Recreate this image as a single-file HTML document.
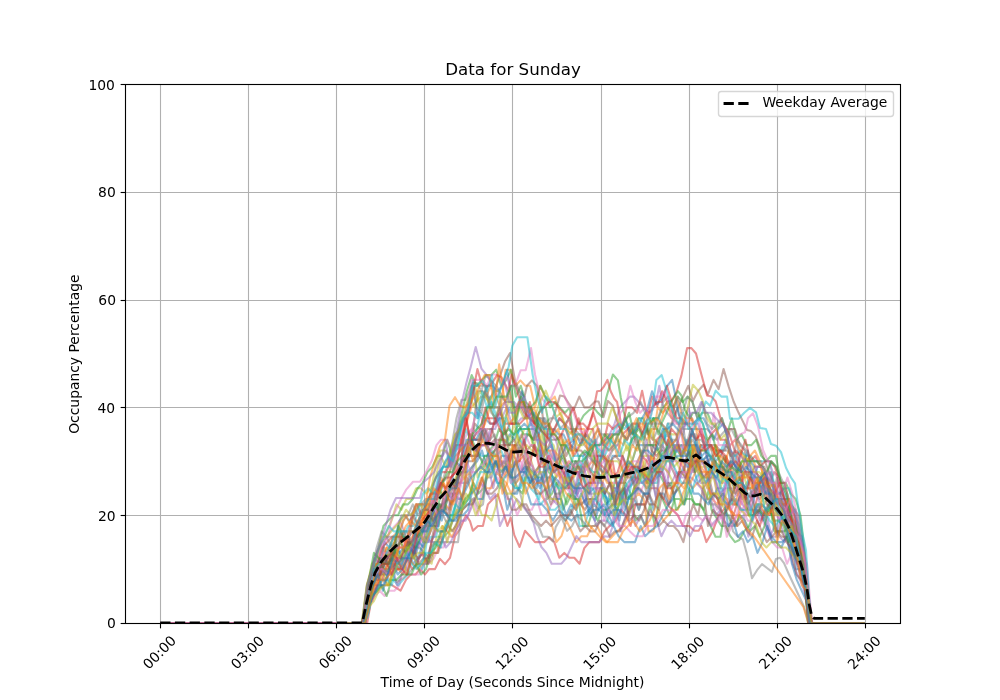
<!DOCTYPE html>
<html lang="en"><head><meta charset="utf-8"><title>Data for Sunday</title>
<style>html,body{margin:0;padding:0;background:#fff;}svg{display:block;}text{font-family:'DejaVu Sans', 'Liberation Sans', sans-serif;fill:#000;}</style>
</head><body>
<svg width="1000" height="700" viewBox="0 0 1000 700">
<defs><clipPath id="ax"><rect x="125" y="84" width="775" height="539"/></clipPath></defs>
<rect x="0" y="0" width="1000" height="700" fill="#ffffff"/>
<g stroke="#b0b0b0" stroke-width="1.111" fill="none">
<line x1="160.5" y1="84" x2="160.5" y2="623"/>
<line x1="248.5" y1="84" x2="248.5" y2="623"/>
<line x1="336.5" y1="84" x2="336.5" y2="623"/>
<line x1="424.5" y1="84" x2="424.5" y2="623"/>
<line x1="512.5" y1="84" x2="512.5" y2="623"/>
<line x1="601.5" y1="84" x2="601.5" y2="623"/>
<line x1="689.5" y1="84" x2="689.5" y2="623"/>
<line x1="777.5" y1="84" x2="777.5" y2="623"/>
<line x1="865.5" y1="84" x2="865.5" y2="623"/>
<line x1="125" y1="623.5" x2="900" y2="623.5"/>
<line x1="125" y1="515.5" x2="900" y2="515.5"/>
<line x1="125" y1="407.5" x2="900" y2="407.5"/>
<line x1="125" y1="300.5" x2="900" y2="300.5"/>
<line x1="125" y1="192.5" x2="900" y2="192.5"/>
<line x1="125" y1="84.5" x2="900" y2="84.5"/>
</g>
<g clip-path="url(#ax)" fill="none" stroke-width="2.083" stroke-linejoin="round" stroke-linecap="butt" stroke-opacity="0.5">
<polyline stroke="#1f77b4" points="160.2,623.0 362.3,623.0 367.3,606.8 372.2,579.9 377.1,574.5 382.0,558.3 386.9,558.3 391.8,552.9 396.7,552.9 401.6,558.3 406.5,558.3 411.4,552.9 416.3,552.9 421.2,536.8 426.1,526.0 431.0,509.8 436.0,499.0 440.9,482.9 445.8,488.2 450.7,488.2 455.6,461.3 460.5,466.7 465.4,445.1 470.3,439.7 475.2,439.7 480.1,439.7 485.0,418.2 489.9,423.6 494.8,423.6 499.7,418.2 504.7,445.1 509.6,434.4 514.5,439.7 519.4,429.0 524.3,423.6 529.2,429.0 534.1,429.0 539.0,434.4 543.9,418.2 548.8,439.7 553.7,429.0 558.6,434.4 563.5,434.4 568.4,445.1 573.4,439.7 578.3,455.9 583.2,455.9 588.1,450.5 593.0,461.3 597.9,466.7 602.8,472.1 607.7,472.1 612.6,455.9 617.5,455.9 622.4,455.9 627.3,466.7 632.2,461.3 637.1,445.1 642.0,445.1 647.0,445.1 651.9,445.1 656.8,450.5 661.7,445.1 666.6,434.4 671.5,439.7 676.4,450.5 681.3,445.1 686.2,455.9 691.1,445.1 696.0,466.7 700.9,445.1 705.8,450.5 710.7,477.5 715.7,461.3 720.6,455.9 725.5,445.1 730.4,450.5 735.3,455.9 740.2,477.5 745.1,472.1 750.0,461.3 754.9,466.7 759.8,482.9 764.7,472.1 769.6,488.2 774.5,499.0 779.4,499.0 784.4,499.0 789.3,509.8 794.2,531.4 799.1,542.1 804.0,563.7 808.9,623.0 864.8,623.0"/>
<polyline stroke="#ff7f0e" points="160.2,623.0 363.3,623.0 368.2,601.4 373.1,585.3 378.1,585.3 383.0,574.5 387.9,552.9 392.8,536.8 397.7,531.4 402.6,547.5 407.5,542.1 412.4,536.8 417.3,520.6 422.2,526.0 427.1,499.0 432.0,493.6 436.9,488.2 441.8,493.6 446.8,488.2 451.7,477.5 456.6,461.3 461.5,445.1 466.4,423.6 471.3,407.4 476.2,402.0 481.1,396.6 486.0,396.6 490.9,385.8 495.8,396.6 500.7,407.4 505.6,369.7 510.5,369.7 515.4,385.8 520.4,380.4 525.3,385.8 530.2,385.8 535.1,407.4 540.0,385.8 544.9,396.6 549.8,402.0 554.7,396.6 559.6,412.8 564.5,423.6 569.4,434.4 574.3,429.0 579.2,429.0 584.1,429.0 589.1,455.9 594.0,455.9 598.9,466.7 603.8,445.1 608.7,450.5 613.6,445.1 618.5,439.7 623.4,445.1 628.3,429.0 633.2,434.4 638.1,423.6 643.0,423.6 647.9,434.4 652.8,439.7 657.8,407.4 662.7,412.8 667.6,407.4 672.5,412.8 677.4,423.6 682.3,423.6 687.2,423.6 692.1,418.2 697.0,429.0 701.9,434.4 706.8,439.7 711.7,450.5 716.6,445.1 721.5,477.5 726.4,455.9 731.4,477.5 736.3,472.1 741.2,450.5 746.1,461.3 751.0,455.9 755.9,466.7 760.8,466.7 765.7,482.9 770.6,499.0 775.5,493.6 780.4,504.4 785.3,504.4 790.2,515.2 795.1,531.4 800.1,542.1 805.0,563.7 809.9,623.0 864.8,623.0"/>
<polyline stroke="#2ca02c" points="160.2,623.0 365.5,623.0 370.4,579.9 375.3,569.1 380.2,558.3 385.1,558.3 390.0,569.1 394.9,563.7 399.9,569.1 404.8,558.3 409.7,542.1 414.6,547.5 419.5,547.5 424.4,552.9 429.3,558.3 434.2,542.1 439.1,547.5 444.0,536.8 448.9,531.4 453.8,515.2 458.7,488.2 463.6,504.4 468.6,499.0 473.5,482.9 478.4,493.6 483.3,488.2 488.2,466.7 493.1,455.9 498.0,455.9 502.9,466.7 507.8,466.7 512.7,477.5 517.6,488.2 522.5,493.6 527.4,466.7 532.3,472.1 537.3,477.5 542.2,477.5 547.1,499.0 552.0,493.6 556.9,482.9 561.8,488.2 566.7,504.4 571.6,493.6 576.5,499.0 581.4,504.4 586.3,499.0 591.2,499.0 596.1,499.0 601.0,488.2 605.9,504.4 610.9,499.0 615.8,477.5 620.7,504.4 625.6,482.9 630.5,493.6 635.4,520.6 640.3,515.2 645.2,526.0 650.1,504.4 655.0,526.0 659.9,493.6 664.8,504.4 669.7,515.2 674.6,499.0 679.6,499.0 684.5,504.4 689.4,488.2 694.3,504.4 699.2,504.4 704.1,509.8 709.0,488.2 711.5,509.8 716.5,517.9 721.4,526.0 725.7,526.0 730.0,535.7 735.0,542.1 739.3,540.0 744.0,531.4 749.0,526.0 753.2,515.2 758.1,504.4 763.0,520.6 767.9,509.8 772.8,515.2 777.7,536.8 782.6,520.6 787.5,526.0 792.4,552.9 797.3,558.3 802.2,569.1 807.1,596.0 812.0,623.0 864.8,623.0"/>
<polyline stroke="#d62728" points="160.2,623.0 367.2,623.0 372.0,596.0 377.0,590.7 382.0,585.3 387.0,585.3 390.3,584.2 395.5,587.4 400.5,590.7 406.0,579.9 410.7,574.5 415.5,574.5 420.0,569.1 425.0,574.5 429.0,569.1 435.0,569.1 440.0,558.9 445.0,564.2 450.0,557.8 455.0,536.2 460.0,529.2 466.0,515.2 470.0,521.1 472.9,530.8 477.9,526.0 482.9,526.0 487.9,504.4 492.9,499.0 497.9,494.2 502.9,510.9 507.4,526.0 510.7,517.4 514.3,535.1 519.6,547.0 525.0,530.8 530.0,536.2 535.0,542.1 539.5,542.1 544.3,542.1 549.3,537.3 554.3,542.1 559.3,557.8 564.3,552.9 569.3,557.8 574.3,557.8 579.6,563.7 584.3,548.1 589.3,542.1 594.3,542.1 599.3,542.1 604.5,531.4 609.5,526.0 615.9,520.6 620.8,509.8 625.7,515.2 630.6,526.0 635.5,504.4 640.4,504.4 645.3,504.4 650.2,488.2 657.0,488.2 662.0,496.3 667.1,504.4 672.9,510.3 677.9,515.2 682.9,526.0 689.3,526.0 694.3,530.8 698.6,530.8 701.4,526.0 706.4,542.1 712.9,530.8 718.6,515.2 723.5,509.8 728.5,504.4 733.6,515.2 738.5,499.0 743.5,493.6 748.4,515.2 753.3,515.2 758.2,493.6 763.1,482.9 768.0,499.0 772.9,493.6 777.8,499.0 782.7,509.8 787.6,531.4 792.5,542.1 797.4,563.7 802.3,563.7 807.2,585.3 812.2,623.0 864.8,623.0"/>
<polyline stroke="#9467bd" points="160.2,623.0 364.4,623.0 369.3,590.7 374.2,569.1 379.1,574.5 384.0,558.3 388.9,558.3 393.8,547.5 398.7,547.5 403.6,569.1 408.5,552.9 413.4,547.5 418.3,531.4 423.2,542.1 428.1,520.6 433.0,515.2 438.0,504.4 442.9,504.4 447.8,509.8 452.7,493.6 457.6,482.9 462.5,482.9 467.4,482.9 472.3,472.1 477.2,455.9 482.1,445.1 487.0,445.1 491.9,429.0 496.8,418.2 501.7,418.2 506.7,407.4 511.6,423.6 516.5,423.6 521.4,418.2 526.3,418.2 531.2,407.4 536.1,418.2 541.0,429.0 545.9,434.4 550.8,434.4 555.7,439.7 560.6,455.9 565.5,466.7 570.4,493.6 575.4,499.0 580.3,488.2 585.2,504.4 590.1,477.5 595.0,482.9 599.9,461.3 604.8,450.5 609.7,434.4 614.6,423.6 620.0,407.4 625.0,402.0 630.0,396.6 634.0,396.6 638.6,402.0 643.5,407.4 648.5,412.8 652.5,410.1 656.4,400.4 659.3,385.8 662.5,404.2 667.0,412.8 672.0,418.2 678.4,423.6 683.3,434.4 688.2,407.4 693.1,423.6 698.0,423.6 702.9,439.7 707.8,461.3 712.7,472.1 717.7,488.2 722.6,488.2 727.5,504.4 732.4,499.0 737.3,493.6 742.2,504.4 747.1,509.8 752.0,493.6 756.9,493.6 761.8,509.8 766.7,515.2 771.6,536.8 776.5,536.8 781.4,515.2 786.4,531.4 791.3,526.0 796.2,531.4 801.1,547.5 806.0,574.5 810.9,623.0 864.8,623.0"/>
<polyline stroke="#8c564b" points="160.2,623.0 365.1,623.0 370.0,590.7 374.9,569.1 379.8,569.1 384.7,558.3 389.6,552.9 394.5,552.9 399.4,542.1 404.3,536.8 409.2,547.5 414.1,558.3 419.1,531.4 424.0,526.0 428.9,526.0 433.8,526.0 438.7,526.0 443.6,499.0 448.5,520.6 453.4,499.0 458.3,466.7 463.2,461.3 468.1,445.1 473.0,429.0 477.9,391.2 482.8,391.2 490.0,399.3 495.0,388.5 500.0,375.6 505.0,361.6 510.0,353.0 515.0,380.4 519.5,391.2 524.5,396.6 527.0,385.8 531.9,380.4 536.8,385.8 541.7,407.4 546.6,450.5 551.5,439.7 556.5,439.7 561.4,434.4 566.3,455.9 571.2,445.1 576.1,450.5 581.0,450.5 585.9,455.9 590.8,472.1 595.7,455.9 600.6,455.9 605.5,461.3 610.4,461.3 615.3,455.9 620.2,461.3 625.1,477.5 630.1,472.1 635.0,466.7 639.9,455.9 644.8,450.5 649.7,461.3 654.6,439.7 659.5,445.1 664.4,429.0 669.3,434.4 673.0,418.2 678.0,407.4 682.9,397.2 688.3,385.8 692.9,400.9 697.9,391.2 703.6,384.8 707.9,394.5 713.6,379.9 718.6,389.1 723.6,369.1 728.6,386.4 733.6,401.5 738.6,412.8 742.9,421.4 747.0,430.0 751.0,431.1 755.5,436.0 760.0,447.8 764.5,460.2 769.0,472.1 774.0,482.9 777.3,493.6 782.2,493.6 787.1,504.4 792.0,520.6 796.9,536.8 801.8,558.3 806.7,579.9 811.6,623.0 864.8,623.0"/>
<polyline stroke="#e377c2" points="160.2,623.0 365.0,623.0 369.9,601.4 374.8,596.0 379.7,590.7 384.6,596.0 389.5,590.7 394.4,590.7 399.4,585.3 404.3,563.7 409.2,574.5 414.1,574.5 419.0,574.5 423.9,563.7 428.8,563.7 433.7,558.3 438.6,547.5 443.5,547.5 448.4,536.8 453.3,536.8 458.2,526.0 463.1,520.6 468.1,515.2 473.0,499.0 477.9,515.2 482.8,482.9 487.7,493.6 492.6,482.9 497.5,477.5 502.4,488.2 507.3,499.0 512.2,499.0 517.1,515.2 522.0,504.4 526.9,509.8 531.8,509.8 536.7,499.0 541.7,515.2 546.6,515.2 551.5,504.4 556.4,499.0 561.3,488.2 566.2,488.2 571.1,493.6 576.0,488.2 580.9,488.2 585.8,499.0 590.7,499.0 595.6,504.4 600.5,499.0 605.4,515.2 610.4,504.4 615.3,504.4 620.2,493.6 625.1,499.0 630.0,477.5 634.9,482.9 639.8,493.6 644.7,482.9 649.6,482.9 654.5,482.9 659.4,461.3 664.3,455.9 669.2,445.1 674.1,450.5 679.1,450.5 684.0,445.1 688.9,472.1 693.8,455.9 698.7,466.7 703.6,461.3 708.5,482.9 713.4,472.1 718.3,504.4 723.2,526.0 728.1,499.0 733.0,520.6 737.9,515.2 742.8,509.8 747.7,520.6 752.7,520.6 757.6,509.8 762.5,520.6 767.4,531.4 772.3,542.1 777.2,547.5 782.1,547.5 787.0,563.7 791.9,552.9 796.8,558.3 801.7,574.5 806.6,590.7 811.5,623.0 864.8,623.0"/>
<polyline stroke="#7f7f7f" points="160.2,623.0 363.4,623.0 368.4,596.0 373.3,574.5 378.2,574.5 383.1,574.5 388.0,574.5 392.9,574.5 397.8,569.1 402.7,563.7 407.6,542.1 412.5,542.1 417.4,526.0 422.3,504.4 427.2,509.8 432.1,504.4 437.1,493.6 442.0,482.9 446.9,466.7 451.8,445.1 456.5,418.2 461.4,399.9 465.7,399.9 472.9,383.1 477.0,383.1 481.4,391.2 485.7,375.1 490.0,379.4 497.0,386.9 503.0,397.2 505.7,402.0 511.4,402.0 516.0,407.4 520.5,407.4 525.4,418.2 530.3,418.2 535.2,423.6 540.1,418.2 545.0,418.2 549.9,429.0 554.8,429.0 559.7,418.2 564.6,423.6 569.5,429.0 574.5,429.0 579.4,434.4 584.3,445.1 589.2,450.5 594.1,445.1 599.0,434.4 603.9,434.4 608.8,434.4 613.7,445.1 618.6,434.4 623.5,423.6 628.4,429.0 633.3,445.1 638.2,423.6 643.1,434.4 648.1,429.0 653.0,439.7 657.9,429.0 662.8,439.7 667.7,423.6 672.6,423.6 677.5,407.4 682.4,429.0 687.3,429.0 692.2,429.0 697.1,429.0 702.0,429.0 706.9,429.0 711.8,434.4 716.8,439.7 721.7,434.4 726.6,429.0 731.5,429.0 736.4,439.7 741.3,472.1 746.2,472.1 751.1,493.6 756.0,488.2 760.9,493.6 765.8,472.1 770.7,504.4 775.6,493.6 780.5,504.4 785.5,526.0 790.4,531.4 795.3,536.8 800.2,552.9 805.1,579.9 810.0,623.0 864.8,623.0"/>
<polyline stroke="#bcbd22" points="160.2,623.0 362.2,623.0 367.1,585.3 372.0,563.7 376.9,558.3 381.8,542.1 386.7,531.4 391.6,520.6 396.5,504.4 401.4,509.8 406.3,499.0 411.3,499.0 416.2,488.2 421.1,488.2 426.0,493.6 430.9,488.2 435.8,477.5 440.7,455.9 445.6,466.7 450.5,450.5 455.4,434.4 460.3,429.0 465.2,412.8 470.1,396.6 475.0,385.8 480.0,407.4 484.9,391.2 489.8,407.4 494.7,418.2 499.6,407.4 504.5,429.0 509.4,439.7 514.3,423.6 519.2,445.1 524.1,429.0 529.0,429.0 533.9,450.5 538.8,418.2 543.7,429.0 548.6,439.7 553.6,445.1 558.5,466.7 563.4,439.7 568.3,450.5 573.2,450.5 578.1,450.5 583.0,439.7 587.9,434.4 592.8,461.3 597.7,450.5 602.6,455.9 607.5,434.4 612.4,450.5 617.3,434.4 622.3,455.9 627.2,445.1 632.1,461.3 637.0,445.1 641.9,455.9 646.8,455.9 651.7,455.9 656.6,450.5 661.5,461.3 666.4,450.5 671.3,445.1 676.2,461.3 681.1,472.1 686.0,477.5 691.0,455.9 695.9,445.1 700.8,466.7 705.7,466.7 710.6,466.7 715.5,461.3 720.4,488.2 725.3,472.1 730.2,461.3 735.1,477.5 740.0,466.7 744.9,477.5 749.8,472.1 754.7,488.2 759.7,488.2 764.6,504.4 769.5,493.6 774.4,509.8 779.3,509.8 784.2,520.6 789.1,526.0 794.0,542.1 798.9,547.5 803.8,579.9 808.7,623.0 864.8,623.0"/>
<polyline stroke="#17becf" points="160.2,623.0 363.7,623.0 368.6,590.7 373.5,569.1 378.4,569.1 383.3,563.7 388.3,579.9 393.2,579.9 398.1,585.3 403.0,579.9 407.9,574.5 412.8,552.9 417.7,563.7 422.6,569.1 427.5,536.8 432.4,520.6 437.3,515.2 442.2,509.8 447.1,515.2 452.0,515.2 457.0,499.0 461.9,499.0 466.8,466.7 471.7,445.1 476.6,450.5 481.5,455.9 486.4,455.9 491.3,450.5 496.2,455.9 501.1,450.5 506.0,461.3 510.9,482.9 515.8,488.2 520.7,488.2 525.7,477.5 530.6,488.2 535.5,493.6 540.4,504.4 545.3,499.0 550.2,509.8 555.1,509.8 560.0,504.4 564.9,520.6 569.8,515.2 574.7,499.0 579.6,526.0 584.5,526.0 589.4,509.8 594.3,499.0 599.3,504.4 604.2,493.6 609.1,504.4 614.0,488.2 618.9,493.6 623.8,493.6 628.7,488.2 633.6,482.9 638.5,466.7 643.4,477.5 648.3,482.9 653.2,461.3 658.1,472.1 663.0,445.1 668.0,423.6 672.9,445.1 677.8,445.1 682.7,455.9 687.6,439.7 692.5,450.5 697.4,450.5 702.3,461.3 707.2,472.1 712.1,466.7 717.0,472.1 721.9,493.6 726.8,477.5 731.7,493.6 736.7,504.4 741.6,493.6 746.5,482.9 751.4,477.5 756.3,477.5 761.2,488.2 766.1,493.6 771.0,482.9 775.9,499.0 780.8,504.4 785.7,520.6 790.6,520.6 795.5,542.1 800.4,552.9 805.4,574.5 810.3,623.0 864.8,623.0"/>
<polyline stroke="#1f77b4" points="160.2,623.0 364.2,623.0 369.1,596.0 374.0,579.9 378.9,574.5 383.9,558.3 388.8,558.3 393.7,563.7 398.6,558.3 403.5,558.3 408.4,552.9 413.3,563.7 418.2,558.3 423.1,542.1 428.0,542.1 432.9,509.8 437.8,526.0 442.7,504.4 447.6,493.6 452.6,499.0 457.5,477.5 462.4,472.1 467.3,472.1 472.2,466.7 477.1,461.3 482.0,450.5 486.9,466.7 491.8,455.9 496.7,466.7 501.6,455.9 506.5,455.9 511.4,472.1 516.3,461.3 521.3,477.5 526.2,488.2 531.1,504.4 537.0,504.4 542.0,504.4 547.1,510.3 552.9,520.6 558.6,510.3 564.3,515.2 571.4,520.6 576.4,515.2 584.3,515.2 589.0,509.8 594.9,520.6 599.8,504.4 604.7,515.2 609.6,493.6 614.5,499.0 619.4,520.6 624.3,488.2 629.2,499.0 634.1,499.0 639.0,509.8 643.9,493.6 648.8,493.6 653.7,509.8 658.6,493.6 663.6,493.6 668.5,504.4 673.4,499.0 678.3,482.9 683.2,466.7 688.1,482.9 693.0,466.7 697.9,482.9 702.8,477.5 707.7,477.5 712.6,499.0 717.5,488.2 722.4,499.0 727.3,504.4 732.3,499.0 737.2,504.4 742.1,509.8 747.0,509.8 751.9,509.8 756.8,509.8 761.7,515.2 766.6,526.0 771.5,536.8 776.4,542.1 781.3,547.5 786.2,536.8 791.1,526.0 796.0,569.1 801.0,569.1 805.9,596.0 810.8,623.0 864.8,623.0"/>
<polyline stroke="#ff7f0e" points="160.2,623.0 363.9,623.0 368.8,606.8 373.7,590.7 378.6,585.3 383.5,579.9 388.4,585.3 393.3,569.1 398.2,569.1 403.1,574.5 408.0,558.3 412.9,563.7 417.8,569.1 422.7,563.7 427.6,558.3 432.6,552.9 437.5,552.9 442.4,526.0 447.3,531.4 452.2,536.8 457.1,526.0 462.0,499.0 466.9,477.5 471.8,493.6 476.7,488.2 481.6,477.5 486.5,488.2 491.4,488.2 496.3,472.1 501.2,477.5 506.2,482.9 511.1,493.6 516.0,482.9 520.9,477.5 525.8,493.6 530.0,482.9 535.0,488.2 540.0,493.1 547.1,504.4 552.1,526.0 556.4,542.1 561.4,536.2 566.4,520.6 571.4,530.8 576.4,542.1 581.4,536.2 587.1,536.2 592.1,526.0 597.1,526.0 602.1,536.2 607.1,542.1 612.0,536.8 617.0,531.4 623.9,526.0 628.8,515.2 633.7,499.0 638.6,493.6 643.6,499.0 648.5,531.4 653.4,531.4 658.3,509.8 663.2,520.6 668.1,515.2 673.0,509.8 677.9,509.8 682.8,493.6 687.7,482.9 692.6,488.2 697.5,482.9 702.4,488.2 707.3,482.9 712.3,499.0 717.2,504.4 722.1,493.6 727.0,499.0 731.9,515.2 736.8,526.0 741.7,493.6 746.6,488.2 751.5,488.2 756.4,477.5 761.3,493.6 766.2,482.9 771.1,499.0 776.0,504.4 780.9,509.8 785.9,515.2 790.8,526.0 795.7,536.8 800.6,563.7 805.5,574.5 810.4,623.0 864.8,623.0"/>
<polyline stroke="#2ca02c" points="160.2,623.0 363.8,623.0 368.7,585.3 373.6,563.7 378.5,547.5 383.4,526.0 388.3,520.6 393.2,515.2 398.1,515.2 403.0,504.4 407.9,504.4 412.8,499.0 417.7,488.2 422.6,482.9 427.5,472.1 432.4,466.7 437.4,455.9 442.3,455.9 447.2,439.7 452.1,455.9 457.0,434.4 461.9,412.8 466.8,391.2 471.7,375.1 476.6,385.8 481.5,380.4 486.4,375.1 491.3,375.1 496.2,369.7 501.1,385.8 506.1,380.4 511.0,369.7 515.9,396.6 520.8,385.8 525.7,402.0 530.6,407.4 535.5,402.0 540.4,385.8 545.3,396.6 550.2,407.4 555.1,402.0 560.0,407.4 564.9,412.8 569.8,407.4 573.0,434.4 577.9,425.7 583.6,415.5 589.3,410.1 593.6,407.4 597.9,412.8 602.1,417.1 606.4,397.2 612.9,374.5 617.9,380.4 620.7,397.2 623.6,411.2 627.9,425.7 632.5,434.4 638.5,418.2 643.4,418.2 648.4,434.4 653.3,418.2 658.2,418.2 663.1,407.4 668.0,402.0 672.9,407.4 677.8,396.6 682.7,402.0 687.6,396.6 692.5,402.0 697.4,418.2 702.3,412.8 707.2,412.8 712.1,423.6 717.1,429.0 722.0,418.2 726.9,434.4 731.8,418.2 736.7,439.7 741.6,434.4 746.5,445.1 751.4,445.1 756.3,439.7 761.2,455.9 766.1,461.3 771.0,455.9 775.9,455.9 780.8,482.9 785.8,482.9 790.7,493.6 795.6,499.0 800.5,515.2 805.4,558.3 810.3,623.0 864.8,623.0"/>
<polyline stroke="#d62728" points="160.2,623.0 362.9,623.0 367.8,590.7 372.7,579.9 377.6,579.9 382.6,579.9 387.5,563.7 392.4,558.3 397.3,569.1 402.2,569.1 407.1,558.3 412.0,569.1 416.9,563.7 421.8,552.9 426.7,563.7 431.6,542.1 436.5,526.0 441.4,509.8 446.3,499.0 451.3,482.9 456.2,488.2 461.1,466.7 466.0,450.5 470.9,434.4 475.8,439.7 480.7,439.7 485.6,418.2 490.5,418.2 495.4,418.2 500.3,412.8 505.2,423.6 510.1,423.6 515.0,423.6 520.0,423.6 524.9,418.2 529.8,402.0 534.7,423.6 539.6,429.0 544.5,434.4 549.4,439.7 554.3,429.0 559.2,418.2 564.1,423.6 569.0,439.7 573.9,455.9 579.5,445.1 584.5,434.4 589.3,424.1 592.9,412.8 597.1,391.2 600.7,390.7 603.6,386.9 607.4,379.9 610.7,391.2 614.3,398.8 617.1,402.0 622.1,429.5 626.4,407.4 632.1,407.4 637.1,412.8 642.1,390.7 647.5,416.6 652.1,396.6 657.1,406.3 662.1,391.2 667.1,401.5 671.4,400.9 676.4,392.3 681.4,375.6 687.1,348.1 691.4,348.1 696.0,353.5 701.4,374.5 707.1,395.5 711.4,396.6 715.7,401.5 721.4,421.4 725.7,427.3 730.0,436.0 734.5,450.0 739.0,461.3 745.7,472.1 750.6,472.1 755.5,472.1 760.4,477.5 765.3,472.1 770.2,493.6 775.1,493.6 780.0,504.4 784.9,504.4 789.8,520.6 794.7,520.6 799.7,558.3 804.6,563.7 809.5,623.0 864.8,623.0"/>
<polyline stroke="#9467bd" points="160.2,623.0 362.5,623.0 367.4,612.2 372.3,596.0 377.2,585.3 382.1,579.9 387.0,579.9 391.9,563.7 396.9,585.3 401.8,574.5 406.7,569.1 411.6,552.9 416.5,563.7 421.4,552.9 426.3,536.8 431.2,542.1 436.1,542.1 441.0,536.8 445.9,547.5 450.8,542.1 455.7,531.4 460.6,520.6 465.6,520.6 470.5,509.8 475.4,499.0 480.3,482.9 485.2,488.2 490.1,499.0 495.0,493.6 499.9,526.0 504.8,515.2 509.7,515.2 516.5,499.0 521.5,504.4 526.4,510.9 530.0,515.7 533.6,522.7 537.1,536.2 541.4,547.0 546.4,552.9 551.7,563.7 556.5,563.7 561.4,563.7 566.4,557.8 571.4,547.0 576.4,536.2 581.4,542.1 586.0,542.1 590.0,542.1 595.0,542.1 599.3,542.1 604.3,536.2 609.0,536.8 612.8,526.0 617.7,509.8 622.6,509.8 627.5,488.2 632.4,482.9 637.3,477.5 642.2,466.7 647.1,472.1 652.0,461.3 656.9,472.1 661.8,466.7 666.7,482.9 671.6,482.9 676.6,472.1 681.5,477.5 686.4,477.5 691.3,477.5 696.2,482.9 701.1,488.2 706.0,499.0 710.9,499.0 715.8,515.2 720.7,509.8 725.6,488.2 730.5,488.2 735.4,488.2 740.3,477.5 745.2,488.2 750.2,488.2 755.1,504.4 760.0,520.6 764.9,515.2 769.8,536.8 774.7,526.0 779.6,536.8 784.5,542.1 789.4,531.4 794.3,558.3 799.2,569.1 804.1,585.3 809.0,623.0 864.8,623.0"/>
<polyline stroke="#8c564b" points="160.2,623.0 362.0,623.0 366.9,606.8 371.8,590.7 376.7,574.5 381.6,574.5 386.5,569.1 391.4,569.1 396.3,547.5 401.2,547.5 406.1,552.9 411.0,542.1 416.0,536.8 420.9,536.8 425.8,542.1 430.7,531.4 435.6,515.2 440.5,509.8 445.4,488.2 450.3,504.4 455.2,499.0 460.1,472.1 465.0,455.9 469.9,455.9 474.8,423.6 479.7,429.0 484.7,429.0 489.6,445.1 494.5,439.7 499.4,439.7 504.3,439.7 509.2,445.1 514.1,439.7 519.0,450.5 523.9,439.7 528.8,434.4 533.7,439.7 538.6,418.2 543.5,429.0 550.0,423.6 555.0,412.8 560.0,395.5 564.3,396.6 569.3,404.2 573.6,410.1 579.3,396.6 584.3,407.4 589.3,407.4 595.0,401.5 598.6,401.5 603.6,417.1 607.9,400.9 612.9,405.8 617.9,424.1 623.0,434.4 627.0,439.7 631.9,429.0 636.8,445.1 641.7,434.4 646.6,423.6 651.5,450.5 656.4,455.9 661.3,450.5 666.2,450.5 671.1,466.7 676.0,477.5 680.9,472.1 685.8,477.5 690.7,461.3 695.7,455.9 700.6,445.1 705.5,445.1 710.4,445.1 715.3,445.1 720.2,450.5 725.1,450.5 730.0,429.0 734.9,429.0 739.8,445.1 744.7,450.5 749.6,477.5 754.5,466.7 759.4,466.7 764.4,466.7 769.3,482.9 774.2,472.1 779.1,477.5 784.0,499.0 788.9,499.0 793.8,509.8 798.7,515.2 803.6,547.5 808.5,623.0 864.8,623.0"/>
<polyline stroke="#e377c2" points="160.2,623.0 363.7,623.0 368.6,590.7 373.5,569.1 378.4,558.3 383.4,542.1 388.3,536.8 391.0,520.6 396.0,509.8 401.0,499.0 406.0,489.9 413.0,481.8 416.5,481.8 420.0,481.8 426.0,472.1 432.0,460.2 436.5,445.1 441.0,439.7 447.1,439.7 452.1,450.5 457.0,445.1 461.9,445.1 466.8,434.4 471.7,429.0 476.6,412.8 481.5,418.2 486.4,439.7 491.3,461.3 496.2,472.1 501.1,461.3 506.0,477.5 510.9,466.7 515.8,461.3 520.8,461.3 525.7,477.5 530.6,477.5 535.5,482.9 540.4,482.9 545.3,504.4 550.2,477.5 555.1,493.6 560.0,477.5 564.9,472.1 569.8,466.7 574.7,472.1 579.6,472.1 584.5,472.1 589.5,445.1 594.4,455.9 599.3,455.9 604.2,450.5 609.1,482.9 614.0,482.9 618.9,482.9 623.8,472.1 628.7,477.5 633.6,477.5 638.5,466.7 643.4,472.1 648.3,455.9 653.2,472.1 658.1,455.9 663.1,445.1 668.0,477.5 672.9,461.3 677.8,461.3 682.7,466.7 687.6,482.9 692.5,461.3 697.4,466.7 702.3,472.1 707.2,488.2 712.1,493.6 717.0,509.8 721.9,499.0 726.8,482.9 731.8,472.1 736.7,488.2 741.6,504.4 746.5,493.6 751.4,499.0 756.3,493.6 761.2,493.6 766.1,488.2 771.0,509.8 775.9,515.2 780.8,520.6 785.7,520.6 790.6,520.6 795.5,531.4 800.5,552.9 805.4,569.1 810.3,623.0 864.8,623.0"/>
<polyline stroke="#7f7f7f" points="160.2,623.0 363.9,623.0 368.8,612.2 372.0,593.4 377.0,579.9 382.0,571.8 386.0,571.8 390.0,571.8 397.0,582.0 403.0,578.3 410.0,571.8 417.0,564.2 421.5,564.2 426.0,564.2 430.0,548.1 436.0,542.1 441.0,542.1 446.0,542.1 452.0,542.1 458.0,542.1 462.0,509.8 468.0,504.4 474.0,498.0 478.0,508.2 483.0,504.4 486.6,477.5 491.5,477.5 496.4,461.3 501.3,461.3 506.2,472.1 511.1,450.5 516.0,482.9 520.9,472.1 525.8,461.3 530.7,455.9 535.6,450.5 540.6,450.5 545.5,477.5 550.4,477.5 555.3,493.6 560.2,493.6 565.1,488.2 570.0,488.2 574.9,493.6 579.8,472.1 584.7,482.9 589.6,493.6 594.5,493.6 599.4,477.5 604.3,477.5 609.3,482.9 614.2,488.2 619.1,488.2 624.0,504.4 628.9,515.2 633.8,488.2 638.7,509.8 643.6,493.6 648.5,499.0 653.4,477.5 658.3,461.3 663.2,461.3 668.1,439.7 673.0,461.3 678.0,445.1 682.9,445.1 687.8,445.1 692.7,439.7 697.6,450.5 702.5,461.3 707.4,455.9 712.3,455.9 717.2,450.5 722.1,450.5 727.0,450.5 731.9,455.9 736.8,472.1 741.7,482.9 746.6,499.0 751.6,493.6 756.5,493.6 761.4,477.5 766.3,488.2 771.2,472.1 776.1,504.4 781.0,499.0 785.9,515.2 790.8,531.4 795.7,552.9 800.6,563.7 805.5,585.3 810.4,623.0 864.8,623.0"/>
<polyline stroke="#bcbd22" points="160.2,623.0 362.9,623.0 367.8,601.4 372.7,596.0 377.6,590.7 382.5,569.1 387.4,585.3 392.3,574.5 397.2,558.3 402.1,558.3 407.1,574.5 412.0,552.9 416.9,563.7 421.8,563.7 426.7,558.3 431.6,563.7 436.5,536.8 441.4,536.8 446.3,520.6 451.2,531.4 456.1,526.0 461.0,515.2 465.9,493.6 470.8,499.0 475.7,515.2 480.7,504.4 485.6,482.9 490.5,461.3 495.4,455.9 500.3,439.7 505.2,439.7 510.1,450.5 515.0,445.1 519.9,455.9 524.8,450.5 529.7,455.9 534.6,472.1 539.5,466.7 544.4,450.5 549.4,450.5 554.3,461.3 559.2,439.7 564.1,455.9 569.0,482.9 573.9,477.5 578.8,466.7 583.7,477.5 588.6,493.6 593.5,472.1 598.4,482.9 603.3,472.1 608.2,461.3 613.1,461.3 618.1,461.3 623.0,472.1 627.9,477.5 632.8,477.5 637.7,477.5 642.6,466.7 647.5,477.5 652.4,455.9 657.3,461.3 662.2,439.7 667.1,445.1 672.0,461.3 676.9,445.1 681.8,450.5 686.7,455.9 691.7,450.5 696.6,461.3 701.5,477.5 706.4,477.5 711.3,466.7 716.2,488.2 721.1,504.4 726.0,509.8 730.9,504.4 735.8,504.4 740.7,509.8 745.6,515.2 750.5,515.2 755.4,504.4 760.4,504.4 765.3,493.6 770.2,499.0 775.1,515.2 780.0,499.0 784.9,520.6 789.8,542.1 794.7,542.1 799.6,552.9 804.5,579.9 809.4,623.0 864.8,623.0"/>
<polyline stroke="#17becf" points="160.2,623.0 362.6,623.0 367.5,590.7 372.4,574.5 377.3,569.1 382.2,558.3 387.1,563.7 392.1,563.7 397.0,547.5 401.9,558.3 406.8,552.9 411.7,552.9 416.6,547.5 421.5,536.8 426.4,542.1 431.3,536.8 436.2,536.8 441.1,509.8 446.0,499.0 450.9,482.9 455.8,455.9 460.8,450.5 465.7,429.0 470.6,439.7 475.5,434.4 480.4,412.8 485.3,418.2 490.2,396.6 495.1,423.6 500.0,418.2 504.9,418.2 509.8,407.4 514.7,418.2 519.6,439.7 524.5,445.1 529.5,423.6 534.4,412.8 539.3,423.6 544.2,429.0 549.1,429.0 554.0,455.9 558.9,472.1 563.8,472.1 568.7,477.5 573.6,488.2 578.5,482.9 583.4,455.9 588.3,466.7 593.2,472.1 598.1,472.1 603.1,493.6 608.0,499.0 612.9,499.0 617.8,482.9 622.7,499.0 627.6,504.4 632.5,477.5 637.4,477.5 642.3,482.9 647.2,488.2 652.1,482.9 657.0,482.9 661.9,455.9 666.8,461.3 671.8,455.9 676.7,450.5 681.6,455.9 686.5,439.7 691.4,461.3 696.3,439.7 701.2,455.9 706.1,466.7 711.0,472.1 715.9,455.9 720.8,450.5 725.7,439.7 730.6,455.9 735.5,455.9 740.5,450.5 745.4,455.9 750.3,455.9 755.2,461.3 760.1,461.3 765.0,461.3 769.9,461.3 774.8,488.2 779.7,493.6 784.6,488.2 789.5,488.2 794.4,515.2 799.3,526.0 804.2,552.9 809.1,623.0 864.8,623.0"/>
<polyline stroke="#1f77b4" points="160.2,623.0 365.0,623.0 369.9,596.0 374.8,558.3 379.7,563.7 384.6,542.1 389.5,547.5 394.4,542.1 399.3,520.6 404.2,515.2 409.1,520.6 414.0,515.2 418.9,504.4 423.9,504.4 428.8,499.0 433.7,482.9 438.6,472.1 443.5,466.7 448.4,466.7 453.3,445.1 458.2,434.4 463.1,418.2 468.0,412.8 472.9,380.4 477.8,418.2 482.7,396.6 487.6,385.8 492.6,385.8 497.5,391.2 502.4,385.8 507.3,369.7 512.2,407.4 517.1,407.4 522.0,391.2 526.9,418.2 531.8,412.8 536.7,418.2 541.6,455.9 546.5,450.5 551.4,445.1 556.3,461.3 561.3,455.9 566.2,445.1 571.1,450.5 576.0,434.4 580.9,445.1 585.8,434.4 590.7,439.7 595.6,445.1 600.5,445.1 605.4,439.7 610.3,434.4 615.2,434.4 620.1,429.0 625.0,418.2 630.0,434.4 637.0,429.0 642.0,418.2 647.0,410.1 652.0,391.2 657.0,404.2 662.0,398.8 666.4,386.9 672.1,379.9 675.7,397.2 678.6,414.4 683.5,423.6 688.8,423.6 693.7,423.6 698.6,418.2 703.6,418.2 708.5,429.0 713.4,439.7 718.3,429.0 723.2,423.6 728.1,439.7 733.0,461.3 737.9,472.1 742.8,466.7 747.7,450.5 752.6,482.9 757.5,466.7 762.4,466.7 767.3,477.5 772.3,482.9 777.2,504.4 782.1,488.2 787.0,499.0 791.9,515.2 796.8,531.4 801.7,536.8 806.6,574.5 811.5,623.0 864.8,623.0"/>
<polyline stroke="#ff7f0e" points="160.2,623.0 362.4,623.0 367.3,601.4 372.2,579.9 377.1,569.1 382.0,569.1 386.9,547.5 391.8,552.9 396.7,536.8 401.6,536.8 406.5,547.5 411.4,542.1 416.3,536.8 421.3,526.0 426.2,509.8 431.1,515.2 436.0,493.6 440.9,477.5 445.8,488.2 450.7,466.7 455.6,455.9 460.5,450.5 465.4,445.1 470.3,434.4 475.2,455.9 480.1,434.4 485.0,423.6 490.0,407.4 494.9,407.4 499.8,407.4 504.7,402.0 509.6,391.2 514.5,412.8 519.4,402.0 524.3,402.0 529.2,434.4 534.1,439.7 539.0,434.4 543.9,455.9 548.8,450.5 553.7,450.5 558.7,455.9 563.6,472.1 568.5,461.3 573.4,466.7 578.3,466.7 583.2,472.1 588.1,488.2 593.0,477.5 597.9,493.6 602.8,482.9 607.7,455.9 612.6,472.1 617.5,477.5 622.4,466.7 627.3,461.3 632.3,445.1 637.2,450.5 642.1,434.4 647.0,439.7 651.9,429.0 656.8,429.0 661.7,418.2 666.6,402.0 671.5,418.2 676.4,396.6 681.3,412.8 686.2,418.2 691.1,418.2 696.0,429.0 701.0,450.5 705.9,450.5 710.8,445.1 715.7,455.9 720.6,455.9 725.5,461.3 730.4,445.1 735.3,439.7 740.2,450.5 745.1,466.7 750.0,455.9 754.9,450.5 759.8,461.3 764.7,482.9 769.7,482.9 774.6,488.2 779.5,504.4 784.4,504.4 789.3,504.4 794.2,515.2 799.1,542.1 804.0,558.3 808.9,623.0 864.8,623.0"/>
<polyline stroke="#2ca02c" points="160.2,623.0 362.2,623.0 367.1,612.2 372.0,596.0 376.9,590.7 381.8,585.3 386.7,596.0 391.6,579.9 396.5,579.9 401.5,574.5 406.4,574.5 411.3,574.5 416.2,563.7 421.1,574.5 426.0,569.1 430.9,552.9 435.8,547.5 440.7,531.4 445.6,531.4 450.5,515.2 455.4,515.2 460.3,509.8 465.2,499.0 470.2,493.6 475.1,472.1 480.0,466.7 484.9,455.9 489.8,455.9 494.7,450.5 499.6,445.1 504.5,429.0 509.4,445.1 514.3,434.4 519.2,429.0 524.1,429.0 529.0,429.0 533.9,445.1 538.8,450.5 543.8,461.3 548.7,472.1 553.6,477.5 558.5,488.2 563.4,509.8 568.3,493.6 573.2,499.0 578.1,499.0 583.0,526.0 587.9,526.0 592.8,509.8 597.7,520.6 602.6,509.8 607.5,509.8 612.5,504.4 617.4,509.8 622.3,488.2 627.2,499.0 632.1,493.6 637.0,482.9 641.9,472.1 646.8,482.9 651.7,466.7 656.6,472.1 661.5,477.5 666.4,488.2 671.3,482.9 676.2,509.8 681.2,504.4 686.1,499.0 691.0,499.0 695.9,504.4 700.8,504.4 705.7,515.2 710.6,526.0 715.5,536.8 720.4,536.8 725.3,509.8 730.2,520.6 735.1,526.0 740.0,515.2 744.9,520.6 749.8,531.4 754.8,526.0 759.7,536.8 764.6,526.0 769.5,504.4 774.4,531.4 779.3,531.4 784.2,531.4 789.1,526.0 794.0,536.8 798.9,547.5 803.8,569.1 808.7,623.0 864.8,623.0"/>
<polyline stroke="#d62728" points="160.2,623.0 362.7,623.0 367.6,590.7 372.5,569.1 377.4,563.7 382.3,547.5 387.2,542.1 392.1,536.8 397.0,536.8 401.9,536.8 406.8,542.1 411.7,515.2 416.7,504.4 421.6,515.2 426.5,504.4 431.4,504.4 436.3,493.6 441.2,472.1 446.1,472.1 451.0,461.3 455.9,445.1 460.8,445.1 465.7,412.8 470.6,445.1 475.5,434.4 480.4,429.0 485.4,407.4 490.3,423.6 495.2,423.6 500.1,407.4 505.0,434.4 509.9,423.6 514.8,423.6 519.7,402.0 524.6,412.8 529.5,418.2 534.4,423.6 539.3,439.7 544.2,455.9 549.1,423.6 554.1,434.4 559.0,439.7 563.9,429.0 568.8,418.2 573.7,439.7 578.6,418.2 583.5,439.7 588.4,429.0 593.3,412.8 598.2,429.0 603.1,445.1 608.0,423.6 612.9,429.0 617.8,423.6 622.7,434.4 627.7,429.0 632.6,423.6 637.5,423.6 642.4,434.4 647.3,418.2 652.2,407.4 657.1,402.0 662.0,402.0 666.9,385.8 671.8,402.0 676.7,418.2 681.6,418.2 686.5,423.6 691.4,429.0 696.4,439.7 701.3,429.0 706.2,445.1 711.1,434.4 716.0,429.0 720.9,439.7 725.8,439.7 730.7,455.9 735.6,450.5 740.5,455.9 745.4,439.7 750.3,461.3 755.2,455.9 760.1,466.7 765.1,461.3 770.0,461.3 774.9,466.7 779.8,482.9 784.7,482.9 789.6,504.4 794.5,515.2 799.4,536.8 804.3,558.3 809.2,623.0 864.8,623.0"/>
<polyline stroke="#9467bd" points="160.2,623.0 365.7,623.0 370.6,585.3 375.5,574.5 380.4,574.5 385.3,569.1 390.2,574.5 395.1,569.1 400.0,563.7 404.9,558.3 409.8,547.5 414.7,552.9 419.6,542.1 424.5,536.8 429.4,542.1 434.4,536.8 439.3,515.2 444.2,509.8 449.1,493.6 454.0,493.6 458.9,499.0 463.8,493.6 468.7,455.9 473.6,455.9 478.5,455.9 483.4,461.3 488.3,466.7 493.2,488.2 498.1,466.7 503.1,461.3 508.0,466.7 512.9,455.9 517.8,461.3 522.7,472.1 527.6,461.3 532.5,466.7 537.4,482.9 542.3,477.5 547.2,493.6 552.1,499.0 557.0,504.4 561.9,488.2 566.8,466.7 571.8,482.9 576.7,493.6 581.6,504.4 586.5,499.0 591.4,509.8 596.3,526.0 601.2,520.6 606.1,520.6 611.0,526.0 615.9,509.8 620.8,531.4 625.7,515.2 630.6,504.4 635.5,526.0 640.5,515.2 645.4,526.0 650.3,509.8 656.5,520.6 661.4,536.2 666.4,526.0 671.4,520.6 676.4,526.0 680.5,526.0 684.3,526.0 690.0,536.2 695.0,526.0 700.0,526.0 705.7,515.7 710.7,526.0 715.5,520.6 720.5,515.2 723.9,520.6 728.8,526.0 733.7,526.0 738.6,520.6 743.5,515.2 748.4,536.8 753.3,515.2 758.2,504.4 763.1,515.2 768.0,504.4 772.9,499.0 777.8,515.2 782.8,531.4 787.7,542.1 792.6,563.7 797.5,574.5 802.4,585.3 807.3,601.4 812.2,623.0 864.8,623.0"/>
<polyline stroke="#8c564b" points="160.2,623.0 364.5,623.0 369.4,585.3 374.3,579.9 379.2,574.5 384.1,547.5 389.0,563.7 393.9,547.5 398.8,558.3 403.7,552.9 408.6,542.1 413.5,552.9 418.4,558.3 423.3,552.9 428.3,563.7 433.2,552.9 438.1,552.9 443.0,536.8 447.9,526.0 452.8,531.4 457.7,520.6 462.6,509.8 467.5,504.4 472.4,504.4 477.3,493.6 482.2,477.5 487.1,493.6 492.0,493.6 497.0,488.2 501.9,477.5 506.8,493.6 511.7,509.8 516.6,509.8 521.5,504.4 526.4,504.4 531.3,515.2 536.2,520.6 541.1,526.0 546.0,520.6 550.9,526.0 555.8,520.6 560.7,515.2 565.7,520.6 570.6,509.8 575.5,520.6 580.4,531.4 585.3,526.0 590.2,531.4 595.1,531.4 600.0,520.6 604.9,526.0 609.8,536.8 614.7,531.4 619.6,531.4 624.5,520.6 629.4,509.8 634.4,504.4 639.3,504.4 644.2,504.4 649.1,515.2 654.0,515.2 658.9,526.0 663.8,520.6 668.7,526.0 673.6,526.0 678.5,531.4 683.4,542.1 688.3,520.6 693.2,504.4 698.1,515.2 703.0,488.2 708.0,526.0 712.9,509.8 717.8,515.2 722.7,515.2 727.6,531.4 732.5,515.2 737.4,526.0 742.3,520.6 747.2,531.4 752.1,536.8 757.0,520.6 761.9,531.4 766.8,542.1 771.7,536.8 776.7,531.4 781.6,536.8 786.5,536.8 791.4,552.9 796.3,574.5 801.2,579.9 806.1,590.7 811.0,623.0 864.8,623.0"/>
<polyline stroke="#e377c2" points="160.2,623.0 365.4,623.0 370.3,579.9 375.2,569.1 380.1,547.5 385.0,542.1 389.9,531.4 394.8,526.0 399.7,520.6 404.6,531.4 409.5,531.4 414.4,531.4 419.3,547.5 424.2,531.4 429.1,504.4 434.1,493.6 439.0,482.9 443.9,488.2 448.8,493.6 453.7,466.7 458.6,450.5 461.5,429.0 466.5,407.4 471.4,379.9 477.0,379.9 482.9,379.9 487.0,385.8 491.4,374.5 497.0,374.5 502.9,383.1 507.0,377.2 510.5,386.9 517.1,379.9 520.7,370.2 525.7,370.2 531.0,348.1 535.0,374.5 538.6,390.2 542.9,399.9 547.5,404.7 552.1,395.5 558.6,379.9 564.3,395.5 569.3,407.4 573.6,412.8 577.9,425.7 582.5,434.4 586.2,429.0 591.1,450.5 596.0,439.7 600.9,450.5 605.8,450.5 610.7,434.4 615.6,434.4 620.5,412.8 625.4,407.4 630.3,385.8 635.2,402.0 640.1,412.8 645.1,407.4 650.0,418.2 654.9,396.6 659.8,396.6 664.7,391.2 669.6,407.4 674.5,423.6 679.4,423.6 684.3,450.5 689.2,439.7 694.1,423.6 699.0,418.2 703.9,445.1 708.8,450.5 713.8,412.8 718.7,445.1 723.6,445.1 730.0,445.1 735.0,439.7 740.0,434.4 745.0,432.2 748.0,418.2 753.0,413.3 758.0,426.3 763.0,450.0 768.0,461.3 773.0,472.1 777.5,477.5 782.5,493.6 787.4,477.5 792.3,493.6 797.2,515.2 802.1,547.5 807.0,563.7 811.9,623.0 864.8,623.0"/>
<polyline stroke="#7f7f7f" points="160.2,623.0 362.0,623.0 366.9,585.3 371.8,569.1 376.7,547.5 381.6,531.4 386.5,536.8 391.4,536.8 396.3,536.8 401.3,515.2 406.2,515.2 411.1,515.2 416.0,504.4 420.9,504.4 425.8,499.0 430.7,499.0 435.6,477.5 440.5,472.1 445.4,461.3 450.3,455.9 455.2,445.1 460.1,423.6 465.0,412.8 470.0,407.4 474.9,385.8 479.8,385.8 484.7,385.8 489.6,407.4 494.5,407.4 499.4,407.4 504.3,423.6 509.2,455.9 514.1,493.6 519.0,488.2 523.0,504.4 528.0,512.5 532.9,520.6 538.6,526.0 542.9,536.8 547.9,536.8 552.9,541.6 555.7,527.1 561.4,517.4 567.1,530.8 572.1,526.0 577.1,515.2 582.1,520.6 587.1,526.0 594.3,526.0 599.3,520.6 604.0,526.0 607.3,520.6 612.3,504.4 617.2,493.6 622.1,493.6 627.0,466.7 631.9,472.1 636.8,493.6 641.7,472.1 646.6,493.6 651.5,472.1 656.4,499.0 661.3,445.1 666.2,450.5 671.1,445.1 676.0,439.7 681.0,455.9 685.9,450.5 690.8,434.4 695.7,434.4 700.6,472.1 705.5,493.6 710.4,504.4 715.3,504.4 720.2,509.8 725.1,515.2 730.0,515.2 733.0,531.4 738.0,536.8 743.0,539.5 748.0,558.3 752.0,578.3 757.0,570.2 762.0,564.2 767.0,568.0 772.0,571.8 776.0,558.9 780.0,557.8 784.0,563.2 789.0,574.5 794.0,585.3 799.0,596.0 804.0,606.8 808.5,623.0 864.8,623.0"/>
<polyline stroke="#bcbd22" points="160.2,623.0 361.8,623.0 366.7,585.3 371.6,569.1 376.5,558.3 381.4,536.8 386.4,536.8 391.3,531.4 396.2,526.0 401.1,520.6 406.0,509.8 410.9,515.2 415.8,509.8 420.7,504.4 425.6,515.2 430.5,493.6 435.4,466.7 440.3,450.5 445.2,450.5 450.1,455.9 455.1,434.4 460.0,429.0 464.9,407.4 469.8,396.6 474.7,407.4 479.6,391.2 484.5,396.6 489.4,402.0 494.3,391.2 499.2,391.2 504.1,429.0 509.0,396.6 513.9,423.6 518.8,407.4 523.7,418.2 528.7,418.2 534.5,418.2 539.3,403.1 545.7,390.7 550.7,403.1 556.4,417.1 561.0,412.8 566.0,429.0 572.8,434.4 577.7,445.1 582.6,445.1 587.5,439.7 592.4,429.0 597.4,423.6 602.3,423.6 607.2,423.6 612.1,407.4 617.0,418.2 621.9,429.0 626.8,450.5 631.7,439.7 636.6,434.4 641.5,439.7 646.4,450.5 651.3,429.0 656.2,445.1 661.1,434.4 666.1,429.0 671.0,434.4 677.5,434.4 682.3,423.6 687.1,410.1 692.9,384.8 698.6,391.2 702.9,401.5 705.7,415.5 710.5,423.6 715.1,423.6 720.0,439.7 724.9,434.4 729.8,450.5 734.7,461.3 739.7,466.7 744.6,455.9 749.5,461.3 754.4,472.1 759.3,472.1 764.2,477.5 769.1,488.2 774.0,499.0 778.9,515.2 783.8,515.2 788.7,526.0 793.6,542.1 798.5,558.3 803.4,569.1 808.4,623.0 864.8,623.0"/>
<polyline stroke="#17becf" points="160.2,623.0 364.3,623.0 369.2,585.3 374.1,563.7 379.0,547.5 383.9,536.8 388.8,526.0 393.7,531.4 398.6,531.4 403.5,536.8 408.4,526.0 413.4,526.0 418.3,509.8 423.2,493.6 428.1,488.2 433.0,493.6 437.9,488.2 442.8,466.7 447.7,466.7 452.6,455.9 457.5,445.1 462.4,423.6 467.3,412.8 472.2,412.8 477.1,418.2 482.1,391.2 487.0,407.4 491.9,402.0 496.8,418.2 501.7,429.0 506.6,418.2 511.5,434.4 516.4,434.4 521.3,429.0 526.2,429.0 531.1,423.6 536.0,429.0 540.9,461.3 545.8,450.5 550.8,455.9 555.7,461.3 560.6,466.7 565.5,466.7 570.4,477.5 575.3,461.3 580.2,466.7 585.1,461.3 590.0,445.1 594.9,445.1 599.8,450.5 604.7,455.9 609.6,445.1 614.5,429.0 619.5,423.6 624.4,429.0 629.3,423.6 634.2,434.4 639.1,418.2 644.0,423.6 648.9,418.2 653.8,418.2 658.7,418.2 663.6,429.0 668.5,455.9 673.4,450.5 678.3,450.5 683.2,461.3 688.1,466.7 691.5,434.4 696.5,423.6 701.4,415.5 705.7,401.5 710.0,405.8 715.7,390.7 721.4,396.6 727.1,396.6 730.0,418.7 734.5,418.7 738.6,418.7 744.3,412.8 750.0,407.9 756.0,412.3 760.0,427.9 766.0,429.0 771.0,444.1 776.0,445.7 781.0,452.1 786.0,467.8 791.0,477.5 795.0,483.4 797.5,501.7 802.0,531.4 806.0,550.2 810.8,623.0 864.8,623.0"/>
<polyline stroke="#1f77b4" points="160.2,623.0 365.0,623.0 369.9,590.7 374.8,579.9 379.7,574.5 384.6,563.7 389.5,552.9 394.4,547.5 399.3,552.9 404.2,547.5 409.1,547.5 414.0,552.9 418.9,542.1 423.8,547.5 428.7,526.0 433.6,526.0 438.6,531.4 443.5,531.4 448.4,520.6 453.3,520.6 458.2,515.2 463.1,515.2 468.0,509.8 472.9,488.2 477.8,499.0 482.7,499.0 487.6,472.1 492.5,466.7 497.4,482.9 502.3,482.9 507.3,509.8 512.2,493.6 517.1,493.6 522.0,477.5 526.9,466.7 531.8,477.5 536.7,488.2 541.6,455.9 546.5,461.3 551.4,472.1 556.3,499.0 561.2,499.0 566.1,515.2 571.0,504.4 576.0,509.8 580.9,493.6 585.8,504.4 590.7,509.8 594.0,504.4 599.0,509.8 604.3,515.2 608.6,515.2 613.6,526.0 618.6,536.2 624.3,542.1 629.5,542.1 635.0,542.1 640.7,526.0 645.0,536.2 650.0,531.4 657.1,526.0 662.9,515.2 668.6,504.4 674.3,494.2 679.0,488.2 683.9,504.4 688.8,477.5 693.7,493.6 698.6,493.6 703.5,499.0 708.4,504.4 713.3,493.6 718.3,499.0 723.2,493.6 728.1,526.0 733.0,520.6 737.9,536.8 742.8,531.4 747.7,542.1 752.6,536.8 757.5,552.9 762.4,542.1 767.3,526.0 772.2,542.1 777.1,542.1 782.0,542.1 787.0,536.8 791.9,563.7 796.8,579.9 801.7,590.7 806.6,601.4 811.5,623.0 864.8,623.0"/>
<polyline stroke="#ff7f0e" points="160.2,623.0 361.8,623.0 366.7,601.4 371.6,590.7 376.5,579.9 381.4,569.1 386.3,569.1 391.2,552.9 396.1,558.3 401.0,536.8 405.9,526.0 410.8,520.6 415.7,526.0 420.7,515.2 425.6,520.6 430.5,504.4 435.4,515.2 440.3,509.8 445.2,504.4 450.1,509.8 455.0,488.2 459.9,482.9 464.8,477.5 469.7,472.1 474.6,488.2 479.5,488.2 484.4,472.1 489.4,455.9 494.3,466.7 499.2,445.1 504.1,477.5 509.0,466.7 513.9,466.7 518.8,461.3 523.7,455.9 528.6,466.7 533.5,482.9 538.4,466.7 543.3,461.3 548.2,488.2 553.1,482.9 558.1,472.1 563.0,477.5 567.9,477.5 572.8,477.5 577.7,466.7 582.6,466.7 587.5,466.7 592.4,461.3 597.3,466.7 602.2,472.1 607.1,482.9 612.0,482.9 616.9,504.4 621.8,477.5 626.8,466.7 631.7,461.3 636.6,472.1 641.5,450.5 646.4,488.2 651.3,455.9 656.2,466.7 661.1,472.1 666.0,461.3 670.9,455.9 675.8,445.1 680.7,455.9 685.6,472.1 690.5,482.9 695.4,472.1 700.4,466.7 705.3,472.1 710.2,493.6 715.1,493.6 720.0,504.4 724.9,504.4 729.8,509.8 734.7,515.2 739.6,515.2 744.5,526.0 749.4,531.4 754.3,536.8 803.4,606.8 808.3,623.0 864.8,623.0"/>
<polyline stroke="#2ca02c" points="160.2,623.0 361.5,623.0 366.4,606.8 371.3,596.0 376.2,563.7 381.1,563.7 386.0,574.5 391.0,563.7 395.9,547.5 400.8,542.1 405.7,552.9 410.6,542.1 415.5,547.5 420.4,536.8 425.3,526.0 430.2,515.2 435.1,526.0 440.0,504.4 444.9,509.8 449.8,488.2 454.7,482.9 459.7,472.1 464.6,472.1 469.5,434.4 474.4,445.1 479.3,455.9 484.2,466.7 489.1,450.5 494.0,445.1 498.9,429.0 503.8,434.4 508.7,429.0 513.6,434.4 518.5,423.6 523.4,434.4 528.3,434.4 533.3,439.7 538.2,423.6 543.1,434.4 548.0,461.3 552.9,466.7 557.8,466.7 562.7,455.9 567.6,466.7 572.5,461.3 577.4,461.3 582.3,461.3 587.2,455.9 592.1,445.1 597.0,472.1 602.0,477.5 606.9,472.1 611.8,477.5 616.7,477.5 621.6,477.5 626.5,466.7 631.4,439.7 636.3,434.4 641.2,455.9 646.1,445.1 651.0,445.1 655.9,445.1 660.8,455.9 665.7,450.5 670.7,439.7 675.6,455.9 680.5,461.3 685.4,461.3 690.3,450.5 695.2,472.1 700.1,450.5 705.0,450.5 709.9,455.9 714.8,461.3 719.7,466.7 724.6,455.9 729.5,477.5 734.4,488.2 739.4,477.5 744.3,488.2 749.2,515.2 754.1,515.2 759.0,509.8 763.9,515.2 768.8,504.4 773.7,520.6 778.6,520.6 783.5,526.0 788.4,542.1 793.3,531.4 798.2,552.9 803.1,558.3 808.0,623.0 864.8,623.0"/>
<polyline stroke="#d62728" points="160.2,623.0 362.3,623.0 367.2,601.4 372.2,601.4 377.1,585.3 382.0,569.1 386.9,558.3 391.8,552.9 396.7,558.3 401.6,558.3 406.5,536.8 411.4,542.1 416.3,526.0 421.2,515.2 426.1,504.4 431.0,493.6 435.9,493.6 440.8,482.9 445.8,477.5 450.7,477.5 455.6,472.1 461.0,439.7 466.0,423.6 470.7,404.2 477.4,369.1 481.4,383.1 487.0,386.9 492.0,383.1 497.0,375.1 501.4,377.2 506.0,385.8 508.6,391.2 511.4,374.5 515.7,386.9 520.0,399.9 525.0,407.4 529.2,407.4 534.1,423.6 539.0,412.8 543.9,407.4 548.8,402.0 553.7,402.0 558.6,407.4 563.5,412.8 568.4,418.2 573.3,407.4 578.2,423.6 583.2,423.6 588.1,429.0 593.0,429.0 597.9,461.3 602.8,466.7 607.7,472.1 612.6,461.3 617.5,488.2 622.4,477.5 627.3,466.7 632.2,466.7 637.1,482.9 642.0,455.9 646.9,461.3 651.9,472.1 656.8,439.7 661.7,434.4 666.6,445.1 671.5,429.0 676.4,434.4 681.3,455.9 686.2,445.1 691.1,434.4 696.0,439.7 700.9,434.4 705.8,450.5 710.7,445.1 715.6,450.5 720.5,450.5 725.5,461.3 730.4,466.7 735.3,493.6 740.2,482.9 745.1,493.6 750.0,504.4 754.9,515.2 759.8,526.0 764.7,509.8 769.6,515.2 774.5,499.0 779.4,504.4 784.3,509.8 789.2,531.4 794.2,536.8 799.1,552.9 804.0,574.5 808.9,623.0 864.8,623.0"/>
<polyline stroke="#9467bd" points="160.2,623.0 361.9,623.0 366.8,606.8 371.7,585.3 376.6,569.1 381.5,569.1 386.4,574.5 391.3,569.1 396.2,558.3 401.1,558.3 406.0,558.3 410.9,547.5 415.8,531.4 420.8,526.0 425.7,531.4 430.6,520.6 435.5,499.0 440.4,466.7 445.3,439.7 450.2,466.7 457.0,429.0 461.4,404.2 466.4,383.1 470.7,367.0 475.7,347.0 481.4,368.6 487.1,375.6 492.0,383.1 497.0,396.6 504.2,380.4 509.1,402.0 514.0,402.0 518.9,407.4 523.8,407.4 528.7,412.8 533.6,429.0 538.5,445.1 543.4,461.3 548.3,455.9 553.2,466.7 558.1,466.7 563.1,472.1 568.0,482.9 572.9,477.5 577.8,493.6 582.7,472.1 587.6,499.0 592.5,482.9 597.4,482.9 602.3,450.5 607.2,477.5 612.1,488.2 617.0,488.2 621.9,477.5 626.8,493.6 631.8,477.5 636.7,482.9 641.6,461.3 646.5,439.7 651.4,477.5 656.3,499.0 661.2,466.7 666.1,455.9 671.0,439.7 675.9,450.5 680.8,450.5 685.7,466.7 690.6,466.7 695.5,461.3 700.5,482.9 705.4,482.9 710.3,477.5 715.2,477.5 720.1,493.6 725.0,488.2 729.9,461.3 734.8,472.1 739.7,493.6 744.6,472.1 749.5,477.5 754.4,482.9 759.3,482.9 764.2,482.9 769.1,493.6 774.1,504.4 779.0,499.0 783.9,509.8 788.8,515.2 793.7,536.8 798.6,552.9 803.5,558.3 808.4,623.0 864.8,623.0"/>
<polyline stroke="#8c564b" points="160.2,623.0 364.7,623.0 369.6,596.0 374.5,574.5 379.4,558.3 384.3,563.7 389.2,563.7 394.1,552.9 399.0,563.7 403.9,547.5 408.8,542.1 413.8,547.5 418.7,563.7 423.6,558.3 428.5,558.3 433.4,531.4 438.3,504.4 443.2,509.8 448.1,515.2 453.0,493.6 457.9,493.6 462.8,472.1 467.7,455.9 472.6,455.9 477.5,455.9 482.5,429.0 487.4,445.1 492.3,455.9 497.2,445.1 502.1,445.1 507.0,445.1 511.9,445.1 516.8,445.1 521.7,434.4 526.6,450.5 531.5,445.1 536.4,450.5 541.3,461.3 546.2,461.3 551.2,472.1 556.1,466.7 561.0,445.1 565.9,461.3 570.8,472.1 575.7,461.3 580.6,472.1 585.5,461.3 590.4,472.1 595.3,477.5 600.2,477.5 605.1,493.6 610.0,482.9 614.9,499.0 619.8,482.9 624.8,482.9 629.7,472.1 634.6,488.2 639.5,488.2 644.4,493.6 649.3,504.4 654.2,504.4 659.1,509.8 664.0,482.9 668.9,504.4 673.8,488.2 678.7,472.1 683.6,472.1 688.5,450.5 693.5,472.1 698.4,461.3 703.3,461.3 708.2,461.3 713.1,455.9 718.0,472.1 722.9,466.7 727.8,477.5 732.7,504.4 737.6,504.4 742.5,488.2 747.4,504.4 752.3,499.0 757.2,482.9 762.2,488.2 767.1,504.4 772.0,509.8 776.9,477.5 781.8,499.0 786.7,509.8 791.6,520.6 796.5,542.1 801.4,574.5 806.3,585.3 811.2,623.0 864.8,623.0"/>
<polyline stroke="#e377c2" points="160.2,623.0 363.3,623.0 368.2,596.0 373.1,574.5 378.0,569.1 382.9,569.1 387.8,574.5 392.7,563.7 397.6,558.3 402.5,563.7 407.5,552.9 412.4,547.5 417.3,536.8 422.2,536.8 427.1,542.1 432.0,526.0 436.9,509.8 441.8,509.8 446.7,488.2 451.6,482.9 456.5,504.4 461.4,482.9 466.3,461.3 471.2,472.1 476.2,472.1 481.1,466.7 486.0,461.3 490.9,450.5 495.8,445.1 500.7,482.9 505.6,461.3 510.5,466.7 515.4,461.3 520.3,450.5 525.2,434.4 530.1,445.1 535.0,445.1 539.9,466.7 544.8,450.5 549.8,461.3 554.7,450.5 559.6,472.1 564.5,482.9 569.4,466.7 574.3,466.7 579.2,477.5 584.1,472.1 589.0,466.7 593.9,450.5 598.8,466.7 603.7,461.3 608.6,455.9 613.5,445.1 618.5,445.1 623.4,466.7 628.3,472.1 633.2,461.3 638.1,461.3 643.0,466.7 647.9,466.7 652.8,461.3 657.7,461.3 662.6,466.7 667.5,472.1 672.4,461.3 677.3,482.9 682.2,472.1 687.2,472.1 692.1,472.1 697.0,445.1 701.9,461.3 706.8,472.1 711.7,472.1 716.6,477.5 721.5,482.9 726.4,482.9 731.3,509.8 736.2,499.0 741.1,509.8 746.0,504.4 750.9,509.8 755.9,493.6 760.8,488.2 765.7,493.6 770.6,499.0 775.5,488.2 780.4,520.6 785.3,509.8 790.2,536.8 795.1,542.1 800.0,563.7 804.9,574.5 809.8,623.0 864.8,623.0"/>
<polyline stroke="#7f7f7f" points="160.2,623.0 363.7,623.0 368.6,590.7 373.5,574.5 378.5,569.1 383.4,563.7 388.3,552.9 393.2,536.8 398.1,547.5 403.0,520.6 407.9,515.2 412.8,504.4 417.7,515.2 422.6,509.8 427.5,509.8 432.4,499.0 437.3,499.0 442.2,482.9 447.1,477.5 452.1,466.7 457.0,439.7 461.9,423.6 466.8,412.8 471.7,385.8 476.6,407.4 481.5,412.8 486.4,385.8 491.3,412.8 496.2,418.2 501.1,396.6 506.0,402.0 510.9,385.8 515.8,385.8 520.8,396.6 525.7,412.8 530.6,407.4 535.5,418.2 540.4,418.2 545.3,423.6 550.2,418.2 555.1,418.2 560.0,429.0 564.9,423.6 569.8,418.2 574.7,434.4 579.6,439.7 584.5,439.7 589.5,445.1 594.4,434.4 599.3,429.0 604.2,445.1 609.1,450.5 614.0,445.1 618.0,434.4 623.0,423.6 627.9,417.1 633.6,412.8 640.7,402.0 645.0,412.8 649.3,418.2 654.0,429.0 658.1,418.2 663.1,402.0 668.0,396.6 672.9,412.8 677.8,396.6 682.7,412.8 687.6,396.6 692.5,402.0 697.4,418.2 702.3,402.0 707.2,423.6 712.1,429.0 717.0,423.6 721.9,418.2 726.8,434.4 731.8,466.7 736.7,439.7 741.6,445.1 746.5,450.5 751.4,461.3 756.3,461.3 761.2,461.3 766.1,477.5 771.0,461.3 775.9,466.7 780.8,477.5 785.7,488.2 790.6,504.4 795.5,509.8 800.5,536.8 805.4,563.7 810.3,623.0 864.8,623.0"/>
<polyline stroke="#bcbd22" points="160.2,623.0 364.9,623.0 369.8,590.7 374.7,574.5 379.6,563.7 384.5,558.3 389.4,552.9 394.3,542.1 399.2,558.3 404.1,547.5 409.0,547.5 413.9,542.1 418.8,526.0 423.7,542.1 428.7,526.0 433.6,515.2 438.5,509.8 443.4,509.8 448.3,482.9 453.2,482.9 458.1,472.1 463.0,477.5 467.9,450.5 472.8,445.1 477.7,477.5 482.6,466.7 487.5,477.5 492.4,472.1 497.3,461.3 502.3,472.1 507.2,461.3 512.1,466.7 517.0,434.4 521.9,450.5 526.8,445.1 531.7,450.5 536.6,455.9 541.5,434.4 546.4,472.1 551.3,461.3 556.2,477.5 561.1,472.1 566.0,488.2 571.0,477.5 575.9,488.2 580.8,482.9 585.7,461.3 590.6,482.9 595.5,477.5 600.4,461.3 605.3,455.9 610.2,477.5 615.1,504.4 620.0,504.4 624.9,477.5 629.8,461.3 634.7,466.7 639.7,477.5 644.6,461.3 649.5,488.2 654.4,477.5 659.3,466.7 664.2,461.3 669.1,461.3 674.0,466.7 678.9,461.3 683.8,450.5 688.7,450.5 693.6,445.1 698.5,466.7 703.4,488.2 708.3,499.0 713.3,493.6 718.2,493.6 723.1,504.4 728.0,488.2 732.9,493.6 737.8,472.1 742.7,472.1 747.6,488.2 752.5,488.2 757.4,482.9 762.3,472.1 767.2,482.9 772.1,493.6 777.0,515.2 782.0,515.2 786.9,531.4 791.8,526.0 796.7,542.1 801.6,547.5 806.5,579.9 811.4,623.0 864.8,623.0"/>
<polyline stroke="#17becf" points="160.2,623.0 362.4,623.0 367.3,617.6 372.2,596.0 377.1,590.7 382.0,579.9 387.0,579.9 391.9,585.3 396.8,563.7 401.7,563.7 406.6,552.9 411.5,563.7 416.4,569.1 421.3,563.7 426.2,552.9 431.1,552.9 436.0,542.1 440.9,547.5 445.8,526.0 450.7,520.6 455.7,504.4 460.6,509.8 465.5,504.4 470.4,493.6 475.3,488.2 480.2,472.1 485.1,472.1 490.0,461.3 494.9,477.5 499.8,488.2 504.7,477.5 509.6,472.1 514.5,488.2 519.4,488.2 524.4,477.5 529.3,477.5 534.2,488.2 539.1,499.0 544.0,477.5 548.9,461.3 553.8,482.9 558.7,488.2 563.6,488.2 568.5,472.1 573.4,455.9 578.3,455.9 583.2,477.5 588.1,488.2 593.1,488.2 598.0,504.4 602.9,509.8 607.8,520.6 612.7,526.0 617.6,509.8 622.5,493.6 627.4,482.9 632.3,477.5 637.2,466.7 642.1,482.9 647.0,477.5 651.9,461.3 656.8,477.5 661.7,472.1 666.7,461.3 671.6,461.3 676.5,472.1 681.4,482.9 686.3,482.9 691.2,493.6 696.1,477.5 701.0,472.1 705.9,482.9 710.8,472.1 715.7,477.5 720.6,482.9 725.5,472.1 730.4,504.4 735.4,499.0 740.3,509.8 745.2,509.8 750.1,515.2 755.0,493.6 759.9,482.9 764.8,509.8 769.7,520.6 774.6,526.0 779.5,520.6 784.4,515.2 789.3,536.8 794.2,552.9 799.1,558.3 804.1,569.1 809.0,623.0 864.8,623.0"/>
<polyline stroke="#1f77b4" points="160.2,623.0 363.3,623.0 368.2,596.0 373.1,585.3 378.0,574.5 382.9,590.7 387.9,574.5 392.8,563.7 397.7,574.5 402.6,569.1 407.5,558.3 412.4,558.3 417.3,536.8 422.2,531.4 427.1,531.4 432.0,515.2 436.9,504.4 441.8,520.6 446.7,493.6 451.6,488.2 456.6,488.2 461.5,455.9 466.4,439.7 471.3,439.7 476.2,439.7 481.1,429.0 486.0,445.1 490.9,466.7 495.8,461.3 500.7,472.1 505.6,466.7 510.5,477.5 515.4,461.3 520.3,472.1 525.3,466.7 530.2,482.9 535.1,477.5 540.0,488.2 544.9,472.1 549.8,466.7 554.7,472.1 559.6,466.7 564.5,466.7 569.4,477.5 574.3,499.0 579.2,482.9 584.1,488.2 589.0,493.6 593.9,488.2 598.9,488.2 603.8,488.2 608.7,509.8 613.6,515.2 618.5,482.9 623.4,472.1 628.3,461.3 633.2,466.7 638.1,472.1 643.0,450.5 647.9,450.5 652.8,455.9 657.7,445.1 662.6,429.0 667.6,429.0 672.5,423.6 677.4,429.0 682.3,434.4 687.2,445.1 692.1,445.1 697.0,445.1 701.9,455.9 706.8,450.5 711.7,461.3 716.6,466.7 721.5,466.7 726.4,472.1 731.3,472.1 736.3,482.9 741.2,482.9 746.1,488.2 751.0,477.5 755.9,488.2 760.8,477.5 765.7,472.1 770.6,504.4 775.5,499.0 780.4,499.0 785.3,515.2 790.2,531.4 795.1,536.8 800.0,558.3 805.0,579.9 809.9,623.0 864.8,623.0"/>
<polyline stroke="#ff7f0e" points="160.2,623.0 361.8,623.0 366.7,606.8 371.6,585.3 376.5,563.7 381.5,563.7 386.4,547.5 391.3,552.9 396.2,536.8 401.1,526.0 406.0,515.2 410.9,526.0 415.8,504.4 420.7,504.4 425.6,504.4 430.0,477.5 435.0,461.3 440.0,446.2 445.0,439.2 449.5,405.8 455.0,397.2 460.0,405.8 465.0,407.4 470.0,402.0 474.7,396.6 479.6,385.8 484.5,375.1 489.4,375.1 494.3,407.4 499.2,364.3 504.1,396.6 509.0,423.6 513.9,418.2 518.9,402.0 523.8,402.0 528.7,412.8 533.6,407.4 538.5,418.2 543.4,423.6 548.3,423.6 553.2,434.4 558.1,429.0 563.0,445.1 567.9,439.7 572.8,455.9 577.7,434.4 582.6,434.4 587.6,450.5 592.5,445.1 597.4,429.0 602.3,439.7 607.2,445.1 612.1,434.4 617.0,455.9 621.9,434.4 626.8,439.7 631.7,429.0 636.6,418.2 641.5,429.0 646.4,412.8 651.3,423.6 656.2,418.2 661.2,423.6 666.1,429.0 671.0,445.1 675.9,439.7 680.8,429.0 685.7,450.5 690.6,439.7 695.5,461.3 700.4,472.1 705.3,472.1 710.2,472.1 715.1,445.1 720.0,455.9 724.9,477.5 729.9,482.9 734.8,504.4 739.7,488.2 744.6,472.1 749.5,477.5 754.4,482.9 759.3,482.9 764.2,482.9 769.1,488.2 774.0,482.9 778.9,499.0 783.8,504.4 788.7,499.0 793.6,526.0 798.6,547.5 803.5,552.9 808.4,623.0 864.8,623.0"/>
<polyline stroke="#2ca02c" points="160.2,623.0 364.1,623.0 369.0,579.9 373.9,552.9 378.8,558.3 383.7,563.7 388.6,563.7 393.5,552.9 398.4,526.0 403.3,536.8 408.3,536.8 413.2,531.4 418.1,536.8 423.0,526.0 427.9,526.0 432.8,504.4 437.7,509.8 442.6,482.9 447.5,472.1 452.4,472.1 457.3,461.3 462.2,455.9 467.1,455.9 472.0,434.4 477.0,429.0 481.9,423.6 486.8,407.4 491.7,407.4 496.6,396.6 501.5,396.6 506.4,396.6 511.3,385.8 516.2,423.6 521.1,396.6 526.0,407.4 530.9,407.4 535.8,423.6 540.7,407.4 545.7,407.4 550.6,434.4 555.5,434.4 560.4,445.1 565.3,445.1 570.2,455.9 575.1,472.1 580.0,455.9 584.9,450.5 589.8,455.9 594.7,445.1 599.6,445.1 604.5,434.4 609.4,439.7 614.3,434.4 619.3,434.4 624.2,423.6 629.1,412.8 634.0,434.4 638.9,429.0 643.8,439.7 648.7,423.6 653.6,418.2 658.5,434.4 661.5,423.6 666.5,412.8 671.4,401.5 677.9,391.2 681.4,395.5 685.0,410.1 690.0,418.2 692.9,412.8 697.8,412.8 702.7,423.6 707.6,439.7 712.5,434.4 717.4,455.9 722.3,466.7 727.2,472.1 732.1,466.7 737.0,472.1 741.9,461.3 746.8,461.3 751.7,461.3 756.7,461.3 761.6,466.7 766.5,472.1 771.4,461.3 776.3,466.7 781.2,482.9 786.1,493.6 791.0,515.2 795.9,526.0 800.8,552.9 805.7,579.9 810.6,623.0 864.8,623.0"/>
<polyline stroke="#d62728" points="160.2,623.0 362.5,623.0 367.4,601.4 372.3,574.5 377.3,569.1 382.2,563.7 387.1,563.7 392.0,574.5 396.9,558.3 401.8,569.1 406.7,574.5 411.6,558.3 416.5,536.8 421.4,520.6 426.3,515.2 431.2,509.8 436.1,504.4 441.0,482.9 445.9,488.2 450.9,477.5 455.8,472.1 460.7,466.7 465.6,418.2 470.5,439.7 475.4,450.5 480.3,445.1 485.2,445.1 490.1,439.7 495.0,418.2 499.9,429.0 504.8,445.1 509.7,461.3 514.6,445.1 519.6,461.3 524.5,439.7 529.4,466.7 534.3,445.1 539.2,466.7 544.1,466.7 549.0,455.9 553.9,472.1 558.8,466.7 563.7,472.1 568.6,488.2 573.5,472.1 578.4,472.1 583.3,488.2 588.3,482.9 593.2,482.9 598.1,455.9 603.0,455.9 607.9,461.3 612.8,477.5 617.7,472.1 622.6,455.9 627.5,472.1 632.4,466.7 637.3,466.7 642.2,472.1 647.1,477.5 652.0,482.9 656.9,472.1 661.9,472.1 666.8,488.2 671.7,488.2 676.6,482.9 681.5,461.3 686.4,461.3 691.3,466.7 696.2,461.3 701.1,450.5 706.0,445.1 710.9,445.1 715.8,455.9 720.7,450.5 725.6,455.9 730.6,466.7 735.5,461.3 740.4,466.7 745.3,499.0 750.2,477.5 755.1,493.6 760.0,482.9 764.9,477.5 769.8,488.2 774.7,493.6 779.6,482.9 784.5,499.0 789.4,515.2 794.3,526.0 799.3,547.5 804.2,579.9 809.1,623.0 864.8,623.0"/>
<polyline stroke="#9467bd" points="160.2,623.0 362.7,623.0 367.5,585.3 372.5,566.4 377.5,550.2 382.5,536.8 386.5,523.3 390.5,509.8 396.0,498.0 401.0,498.0 406.0,498.0 411.0,498.0 415.5,498.0 420.0,498.0 424.0,481.8 429.0,477.5 434.0,472.1 439.0,461.3 446.1,450.5 451.0,466.7 455.9,450.5 460.8,445.1 465.7,445.1 470.6,445.1 475.5,450.5 480.5,445.1 485.4,445.1 490.3,429.0 495.2,429.0 500.1,412.8 505.0,402.0 509.9,412.8 514.8,412.8 519.7,402.0 524.6,396.6 529.5,418.2 534.4,439.7 539.3,439.7 544.2,445.1 549.1,439.7 554.1,455.9 559.0,472.1 563.9,482.9 568.8,482.9 573.7,493.6 578.6,472.1 583.5,466.7 588.4,482.9 593.3,504.4 598.2,482.9 603.1,482.9 608.0,493.6 612.9,493.6 617.8,488.2 622.8,499.0 627.7,509.8 632.6,504.4 637.5,482.9 642.4,482.9 647.3,477.5 652.2,482.9 657.1,477.5 662.0,472.1 666.9,488.2 671.8,450.5 676.7,445.1 681.6,429.0 686.5,423.6 691.5,412.8 696.4,412.8 701.3,402.0 706.2,412.8 711.1,412.8 716.0,418.2 720.9,423.6 725.8,429.0 730.7,450.5 735.6,466.7 740.5,455.9 745.4,461.3 750.3,466.7 755.2,482.9 760.1,493.6 765.1,477.5 770.0,472.1 774.9,493.6 779.8,493.6 784.7,504.4 789.6,515.2 794.5,509.8 799.4,536.8 804.3,552.9 809.2,623.0 864.8,623.0"/>
<polyline stroke="#8c564b" points="160.2,623.0 364.4,623.0 369.3,585.3 374.2,569.1 379.1,569.1 384.0,558.3 388.9,563.7 393.8,547.5 398.7,547.5 403.6,531.4 408.5,542.1 413.4,515.2 418.3,526.0 423.3,509.8 428.2,509.8 433.1,520.6 438.0,509.8 442.9,504.4 447.8,499.0 452.7,488.2 457.6,477.5 462.5,472.1 467.4,461.3 472.3,461.3 477.2,455.9 482.1,439.7 487.0,429.0 492.0,429.0 496.9,445.1 501.8,434.4 506.7,461.3 511.6,450.5 516.5,450.5 521.4,450.5 526.3,466.7 531.2,477.5 536.1,493.6 541.0,493.6 545.9,488.2 550.8,504.4 555.7,493.6 560.7,515.2 565.6,515.2 570.5,515.2 575.4,504.4 580.3,504.4 585.2,509.8 590.1,499.0 595.0,515.2 599.9,488.2 604.8,493.6 609.7,482.9 614.6,504.4 619.5,493.6 624.4,488.2 629.3,520.6 634.3,515.2 639.2,520.6 644.1,509.8 649.0,493.6 653.9,504.4 658.8,493.6 663.7,499.0 668.6,482.9 673.5,493.6 678.4,488.2 683.3,482.9 688.2,472.1 693.1,461.3 698.0,461.3 703.0,477.5 707.9,472.1 712.8,493.6 717.7,499.0 722.6,515.2 727.5,509.8 732.4,493.6 737.3,482.9 742.2,499.0 747.1,493.6 752.0,499.0 756.9,515.2 761.8,504.4 766.7,509.8 771.7,504.4 776.6,531.4 781.5,531.4 786.4,542.1 791.3,547.5 796.2,558.3 801.1,579.9 806.0,585.3 810.9,623.0 864.8,623.0"/>
<polyline stroke="#e377c2" points="160.2,623.0 363.7,623.0 368.6,590.7 373.5,574.5 378.4,569.1 383.3,552.9 388.2,552.9 393.1,547.5 398.0,547.5 402.9,547.5 407.9,536.8 412.8,531.4 417.7,531.4 422.6,526.0 427.5,526.0 432.4,499.0 437.3,515.2 442.2,509.8 447.1,488.2 452.0,499.0 456.9,493.6 461.8,477.5 466.7,455.9 471.6,429.0 476.6,434.4 481.5,429.0 486.4,429.0 491.3,445.1 496.2,439.7 501.1,466.7 506.0,455.9 510.9,482.9 515.8,477.5 520.7,472.1 525.6,450.5 530.5,461.3 535.4,472.1 540.3,472.1 545.2,482.9 550.2,450.5 555.1,472.1 560.0,477.5 564.9,466.7 569.8,461.3 574.7,466.7 579.6,461.3 584.5,466.7 589.4,472.1 594.3,488.2 599.2,488.2 604.1,520.6 608.5,509.8 613.5,517.9 618.6,526.0 625.0,526.0 630.0,531.4 635.0,536.2 639.0,536.2 642.9,536.2 647.1,526.0 652.9,526.0 657.1,520.6 662.9,509.8 667.1,510.3 672.9,510.3 677.9,515.2 682.9,526.0 685.7,515.2 690.0,510.9 692.9,520.6 697.1,515.7 702.9,520.6 707.1,515.7 712.9,526.0 718.0,520.6 723.0,515.2 726.8,536.8 731.7,526.0 736.6,515.2 741.5,493.6 746.4,515.2 751.3,504.4 756.2,466.7 761.2,466.7 766.1,472.1 771.0,482.9 775.9,482.9 780.8,504.4 785.7,509.8 790.6,499.0 795.5,531.4 800.4,542.1 805.3,563.7 810.2,623.0 864.8,623.0"/>
<polyline stroke="#7f7f7f" points="336.4,623.0 362.2,623.0 367.1,585.3 372.0,569.1 376.9,552.9 381.8,542.1 386.7,536.8 391.6,547.5 396.5,542.1 401.4,531.4 406.3,531.4 411.2,542.1 416.2,531.4 421.1,531.4 426.0,526.0 430.9,515.2 435.8,520.6 440.7,509.8 445.6,520.6 450.5,526.0 455.4,515.2 460.3,499.0 465.2,488.2 470.1,472.1 475.0,461.3 479.9,434.4 484.9,429.0 489.8,439.7 494.7,434.4 499.6,466.7 504.5,461.3 509.4,472.1 514.3,482.9 519.2,445.1 524.1,450.5 529.0,466.7 533.9,472.1 538.8,466.7 543.7,482.9 548.6,477.5 553.6,472.1 558.5,466.7 563.4,466.7 568.3,472.1 573.2,472.1 578.1,466.7 583.0,472.1 587.9,455.9 592.8,461.3 597.7,461.3 602.6,472.1 607.5,461.3 612.4,450.5 617.3,445.1 622.3,434.4 627.2,439.7 632.1,423.6 637.0,439.7 641.9,455.9 646.8,423.6 651.7,423.6 656.6,423.6 661.5,423.6 666.4,429.0 671.3,439.7 676.2,439.7 681.1,412.8 686.0,445.1 690.9,429.0 695.9,439.7 700.8,439.7 705.7,445.1 710.6,445.1 715.5,472.1 720.4,472.1 725.3,466.7 730.2,488.2 735.1,493.6 740.0,488.2 744.9,493.6 749.8,493.6 754.7,488.2 759.6,499.0 764.6,493.6 769.5,488.2 774.4,499.0 779.3,499.0 784.2,509.8 789.1,520.6 794.0,526.0 798.9,552.9 803.8,563.7 808.7,623.0 864.8,623.0"/>
<polyline stroke="#bcbd22" points="336.4,623.0 364.0,623.0 368.9,606.8 373.8,601.4 378.7,590.7 383.6,585.3 388.5,585.3 393.4,574.5 398.3,563.7 403.3,558.3 408.2,547.5 413.1,558.3 418.0,552.9 422.9,552.9 427.8,536.8 432.7,526.0 437.6,531.4 442.5,526.0 447.4,542.1 452.3,520.6 457.2,509.8 462.1,509.8 467.0,499.0 472.0,488.2 476.9,499.0 481.8,515.2 486.7,515.2 491.6,520.6 496.5,504.4 501.4,477.5 506.3,493.6 511.2,493.6 516.1,499.0 521.0,509.8 525.9,477.5 530.8,472.1 535.7,477.5 540.6,472.1 545.6,472.1 550.5,499.0 555.4,499.0 560.3,504.4 565.2,477.5 570.1,482.9 575.0,504.4 579.9,499.0 584.8,488.2 589.7,504.4 594.6,493.6 599.5,493.6 604.4,488.2 609.3,493.6 614.3,515.2 619.2,504.4 624.1,499.0 629.0,509.8 633.9,488.2 638.8,482.9 643.7,472.1 648.6,477.5 653.5,472.1 658.4,466.7 663.3,466.7 668.2,472.1 673.1,482.9 678.0,488.2 683.0,504.4 687.9,477.5 692.8,461.3 697.7,472.1 702.6,477.5 707.5,488.2 712.4,477.5 717.3,466.7 722.2,482.9 727.1,477.5 732.0,482.9 736.9,482.9 741.8,493.6 746.7,509.8 751.7,520.6 756.6,526.0 761.5,542.1 766.4,547.5 771.3,542.1 776.2,542.1 781.1,547.5 786.0,547.5 790.9,552.9 795.8,558.3 800.7,563.7 805.6,585.3 810.5,623.0 864.8,623.0"/>
<polyline stroke="#17becf" points="336.4,623.0 364.5,623.0 369.4,590.7 374.3,569.1 379.3,563.7 384.2,558.3 389.1,547.5 394.0,536.8 398.9,531.4 403.8,531.4 408.7,531.4 413.6,531.4 418.5,520.6 423.4,509.8 428.3,499.0 433.2,499.0 438.1,477.5 443.0,466.7 448.0,455.9 452.9,461.3 457.8,445.1 462.7,418.2 467.6,412.8 472.5,385.8 477.4,385.8 482.3,380.4 487.2,391.2 492.1,375.1 495.0,407.4 500.0,391.2 504.5,377.8 508.6,367.0 512.4,345.4 517.1,337.3 522.2,337.3 527.4,337.3 532.7,375.1 537.0,396.6 542.0,412.8 546.1,396.6 551.0,402.0 555.9,418.2 560.8,429.0 565.7,429.0 570.6,439.7 575.5,434.4 580.4,434.4 585.3,439.7 590.3,445.1 595.2,439.7 600.1,461.3 605.0,445.1 609.9,439.7 614.8,445.1 619.7,455.9 624.6,439.7 629.5,445.1 634.4,434.4 641.5,439.7 646.5,426.3 651.4,414.4 656.4,379.9 661.7,375.1 665.7,388.0 668.6,397.2 674.0,415.5 679.0,423.6 683.5,412.8 688.4,429.0 693.3,423.6 698.2,418.2 703.1,423.6 708.0,450.5 712.9,461.3 717.8,466.7 722.7,477.5 727.7,482.9 732.6,472.1 737.5,482.9 742.4,482.9 747.3,493.6 752.2,520.6 757.1,504.4 762.0,504.4 766.9,509.8 771.8,504.4 776.7,499.0 781.6,515.2 786.5,526.0 791.4,531.4 796.3,536.8 801.3,569.1 806.2,590.7 811.1,623.0 864.8,623.0"/>
<polyline stroke="#1f77b4" points="336.4,623.0 363.4,623.0 368.3,606.8 373.2,596.0 378.1,585.3 383.0,585.3 387.9,574.5 392.8,558.3 397.7,563.7 402.6,558.3 407.5,558.3 412.4,547.5 417.3,526.0 422.2,531.4 427.2,520.6 432.1,526.0 437.0,515.2 441.9,509.8 446.8,515.2 451.7,520.6 456.6,520.6 461.5,499.0 466.4,488.2 471.3,477.5 476.2,472.1 481.1,466.7 486.0,472.1 490.9,472.1 495.9,461.3 500.8,477.5 505.7,466.7 510.6,477.5 515.5,477.5 520.4,472.1 525.3,472.1 530.2,482.9 535.1,472.1 540.0,482.9 544.9,466.7 549.8,493.6 554.7,477.5 559.6,482.9 564.6,488.2 569.5,482.9 574.4,488.2 579.3,488.2 584.2,488.2 589.1,515.2 594.0,509.8 598.9,509.8 603.8,504.4 608.7,515.2 613.6,509.8 618.5,509.8 623.4,515.2 628.3,499.0 633.2,493.6 638.2,488.2 643.1,493.6 648.0,493.6 652.9,472.1 657.8,466.7 662.7,455.9 667.6,455.9 672.5,461.3 677.4,455.9 682.3,455.9 687.2,455.9 692.1,429.0 697.0,450.5 701.9,461.3 706.9,455.9 711.8,472.1 716.7,477.5 721.6,461.3 726.5,466.7 731.4,461.3 736.3,466.7 741.2,472.1 746.1,466.7 751.0,472.1 755.9,477.5 760.8,477.5 765.7,493.6 770.6,493.6 775.6,509.8 780.5,515.2 785.4,526.0 790.3,542.1 795.2,558.3 800.1,563.7 805.0,585.3 809.9,623.0 864.8,623.0"/>
<polyline stroke="#ff7f0e" points="336.4,623.0 365.0,623.0 369.9,601.4 374.8,585.3 379.7,579.9 384.6,579.9 389.6,574.5 394.5,558.3 399.4,547.5 404.3,547.5 409.2,531.4 414.1,531.4 419.0,531.4 423.9,509.8 428.8,504.4 433.7,488.2 438.6,493.6 443.5,482.9 448.4,499.0 453.3,504.4 458.3,488.2 463.2,499.0 468.1,445.1 473.0,461.3 477.9,450.5 482.8,439.7 487.7,450.5 492.6,455.9 497.5,455.9 502.4,493.6 507.3,482.9 512.2,445.1 517.1,466.7 522.0,482.9 526.9,482.9 531.9,488.2 536.8,482.9 541.7,482.9 546.6,488.2 551.5,472.1 556.4,461.3 561.3,482.9 566.2,493.6 571.1,499.0 576.0,509.8 580.9,499.0 585.8,520.6 590.0,526.0 595.0,531.4 600.0,536.8 605.7,542.1 611.5,542.1 617.9,542.1 622.9,531.4 628.0,526.0 633.0,520.6 639.8,531.4 644.7,526.0 649.6,520.6 654.5,509.8 659.4,488.2 664.3,482.9 669.3,499.0 674.2,482.9 679.1,482.9 684.0,488.2 688.9,472.1 693.8,445.1 698.7,461.3 703.6,461.3 708.5,477.5 713.4,461.3 718.3,472.1 723.2,477.5 728.1,477.5 733.0,482.9 738.0,477.5 742.9,477.5 747.8,477.5 752.7,488.2 757.6,477.5 762.5,509.8 767.4,515.2 772.3,509.8 777.2,542.1 782.1,520.6 787.0,526.0 791.9,536.8 796.8,552.9 801.7,585.3 806.6,590.7 811.6,623.0 864.8,623.0"/>
</g>
<g clip-path="url(#ax)"><polyline fill="none" stroke="#000" stroke-width="2.778" stroke-linejoin="round" stroke-dasharray="10.278 4.444" points="160.2,623.0 362.3,623.0 366.0,605.2 371.0,585.0 375.0,572.9 381.0,562.1 388.0,553.5 395.8,545.9 405.0,538.9 414.0,531.9 423.0,524.4 426.0,520.1 433.0,508.7 440.0,498.0 447.0,490.4 453.0,481.8 458.0,473.2 463.0,464.0 468.0,455.9 472.0,450.0 478.0,444.6 484.0,443.0 490.0,443.5 496.0,445.1 501.0,447.3 506.0,450.0 510.0,451.6 514.0,452.1 519.0,451.6 524.0,451.1 528.0,452.1 532.0,453.8 538.0,457.0 544.0,460.2 552.0,463.5 560.0,467.2 566.0,469.9 572.0,472.6 578.0,474.2 584.0,475.9 592.0,476.9 600.0,477.5 610.0,476.9 620.0,475.3 630.0,473.2 640.0,471.0 646.0,468.8 652.0,466.2 657.0,462.4 662.0,458.6 666.0,457.5 670.0,457.5 675.0,458.6 680.0,460.2 686.0,461.0 691.0,458.1 696.0,454.8 700.0,458.1 704.0,461.8 710.0,466.2 716.0,469.9 722.0,473.7 728.0,478.0 734.0,483.4 740.0,488.8 745.0,493.1 750.0,495.8 755.0,495.8 760.0,494.2 765.0,497.4 770.0,502.3 777.0,508.7 784.0,517.9 789.6,529.2 795.0,545.4 798.3,556.2 803.8,573.4 807.0,589.0 809.3,604.7 811.7,616.0 814.0,618.3 864.8,618.3"/></g>
<g stroke="#000" stroke-width="1.111">
<line x1="160.5" y1="623.5" x2="160.5" y2="628.36"/>
<line x1="248.5" y1="623.5" x2="248.5" y2="628.36"/>
<line x1="336.5" y1="623.5" x2="336.5" y2="628.36"/>
<line x1="424.5" y1="623.5" x2="424.5" y2="628.36"/>
<line x1="512.5" y1="623.5" x2="512.5" y2="628.36"/>
<line x1="601.5" y1="623.5" x2="601.5" y2="628.36"/>
<line x1="689.5" y1="623.5" x2="689.5" y2="628.36"/>
<line x1="777.5" y1="623.5" x2="777.5" y2="628.36"/>
<line x1="865.5" y1="623.5" x2="865.5" y2="628.36"/>
<line x1="125.5" y1="623.5" x2="120.64" y2="623.5"/>
<line x1="125.5" y1="515.5" x2="120.64" y2="515.5"/>
<line x1="125.5" y1="407.5" x2="120.64" y2="407.5"/>
<line x1="125.5" y1="300.5" x2="120.64" y2="300.5"/>
<line x1="125.5" y1="192.5" x2="120.64" y2="192.5"/>
<line x1="125.5" y1="84.5" x2="120.64" y2="84.5"/>
</g>
<rect x="125.5" y="84.5" width="775" height="539" fill="none" stroke="#000" stroke-width="1.111" stroke-linejoin="miter"/>
<text font-size="13.889" transform="translate(148.79 669.89) rotate(-45)">00:00</text>
<text font-size="13.889" transform="translate(236.75 669.94) rotate(-45)">03:00</text>
<text font-size="13.889" transform="translate(324.67 669.84) rotate(-45)">06:00</text>
<text font-size="13.889" transform="translate(412.78 669.84) rotate(-45)">09:00</text>
<text font-size="13.889" transform="translate(501.14 670.64) rotate(-45)">12:00</text>
<text font-size="13.889" transform="translate(589.01 670.64) rotate(-45)">15:00</text>
<text font-size="13.889" transform="translate(677.02 670.59) rotate(-45)">18:00</text>
<text font-size="13.889" transform="translate(764.64 670.09) rotate(-45)">21:00</text>
<text font-size="13.889" transform="translate(853.55 670.14) rotate(-45)">24:00</text>
<text font-size="13.889" text-anchor="middle" x="512.50" y="686.64">Time of Day (Seconds Since Midnight)</text>
<text font-size="13.889" text-anchor="end" x="115.73" y="628.38">0</text>
<text font-size="13.889" text-anchor="end" x="115.68" y="521.48">20</text>
<text font-size="13.889" text-anchor="end" x="115.18" y="412.68">40</text>
<text font-size="13.889" text-anchor="end" x="115.98" y="304.98">60</text>
<text font-size="13.889" text-anchor="end" x="115.78" y="197.08">80</text>
<text font-size="13.889" text-anchor="end" x="114.88" y="90.28">100</text>
<text font-size="13.889" text-anchor="middle" transform="translate(79.32 354.15) rotate(-90)">Occupancy Percentage</text>
<text font-size="16.667" text-anchor="middle" x="513.10" y="75.17">Data for Sunday</text>
<rect x="718.50" y="91.50" width="175.00" height="25.00" rx="2.78" ry="2.78" fill="#fff" fill-opacity="0.8" stroke="#cccccc" stroke-opacity="0.8" stroke-width="1.389"/>
<line x1="723.56" y1="103.50" x2="751.34" y2="103.50" stroke="#000" stroke-width="2.778" stroke-dasharray="10.278 4.444"/>
<text font-size="13.889" x="762.45" y="107.05">Weekday Average</text>
</svg>
</body></html>
